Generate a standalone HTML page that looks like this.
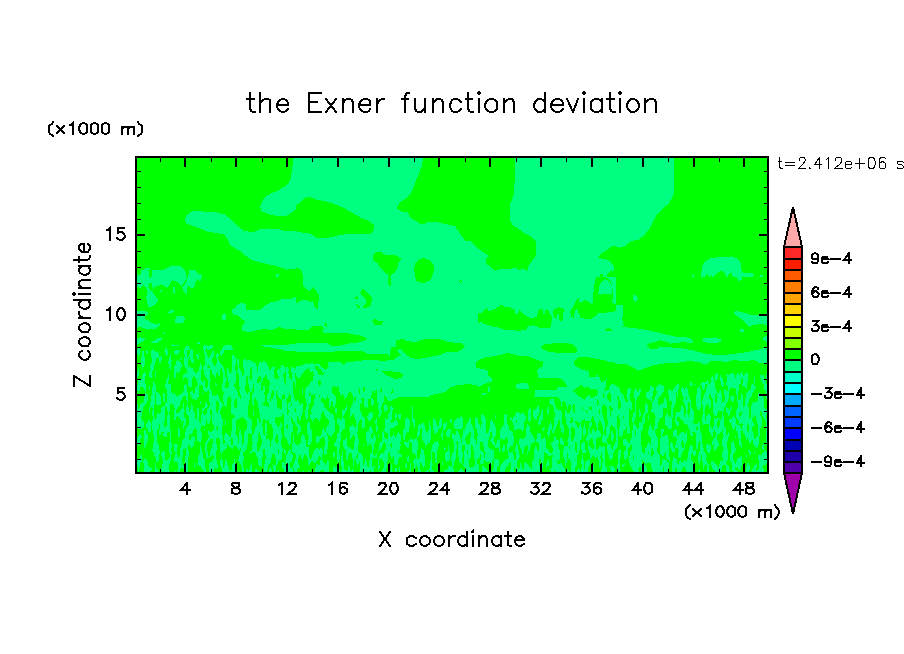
<!DOCTYPE html><html><head><meta charset="utf-8"><title>the Exner function deviation</title>
<style>html,body{margin:0;padding:0;background:#fff;font-family:"Liberation Sans",sans-serif}svg{display:block}</style></head><body>
<svg width="904" height="654" viewBox="0 0 904 654">
<rect width="904" height="654" fill="#fff"/>
<g shape-rendering="crispEdges">
<rect x="136" y="157" width="632" height="316" fill="#00ff00"/>
<path fill="#00ff80" d="M136 338h1v7h-1zM136 453h1v5h-1zM136 373h1v5h-1zM136 402h1v24h-1zM136 311h2v17h-2zM137 385h1v5h-1zM137 404h1v24h-1zM137 459h1v7h-1zM137 372h1v6h-1zM137 438h1v7h-1zM137 349h1v5h-1zM136 275h3v12h-3zM137 338h2v6h-2zM138 379h1v14h-1zM138 436h1v10h-1zM138 459h1v14h-1zM138 368h1v8h-1zM138 347h1v9h-1zM138 409h1v20h-1zM139 472h1v1h-1zM139 435h1v8h-1zM139 379h1v12h-1zM139 407h1v22h-1zM139 348h1v7h-1zM139 275h1v13h-1zM139 458h1v10h-1zM139 338h1v5h-1zM140 455h1v8h-1zM140 337h1v6h-1zM140 404h1v25h-1zM140 274h1v14h-1zM140 434h1v5h-1zM140 379h1v8h-1zM138 311h4v16h-4zM141 455h1v7h-1zM141 403h1v13h-1zM141 270h1v17h-1zM141 378h1v9h-1zM141 418h1v11h-1zM141 357h1v8h-1zM141 436h1v2h-1zM141 338h2v4h-2zM142 403h1v8h-1zM142 351h1v18h-1zM142 421h1v7h-1zM142 270h1v16h-1zM142 310h1v18h-1zM142 375h1v12h-1zM143 351h1v16h-1zM143 460h1v3h-1zM143 270h1v15h-1zM143 338h1v3h-1zM143 373h1v15h-1zM143 421h1v6h-1zM143 402h1v5h-1zM143 311h2v17h-2zM144 430h1v18h-1zM144 397h1v9h-1zM144 269h1v17h-1zM144 338h1v2h-1zM144 372h1v18h-1zM144 357h1v8h-1zM145 319h1v10h-1zM145 384h1v8h-1zM145 373h1v3h-1zM145 393h1v11h-1zM145 430h1v17h-1zM145 311h1v5h-1zM145 268h1v19h-1zM144 459h3v14h-3zM146 433h1v11h-1zM146 268h1v21h-1zM146 296h1v3h-1zM146 351h1v2h-1zM146 320h1v9h-1zM146 394h1v9h-1zM146 424h1v4h-1zM146 312h2v3h-2zM147 434h1v7h-1zM147 320h1v10h-1zM147 350h1v4h-1zM147 395h1v6h-1zM147 268h1v23h-1zM147 292h1v12h-1zM147 422h1v7h-1zM147 462h1v11h-1zM148 271h1v16h-1zM148 466h1v7h-1zM148 420h1v12h-1zM148 288h1v19h-1zM148 321h2v8h-2zM148 268h2v2h-2zM149 467h1v6h-1zM149 407h1v6h-1zM149 420h1v13h-1zM149 289h1v18h-1zM149 386h1v4h-1zM149 372h1v5h-1zM150 402h1v6h-1zM150 365h1v3h-1zM150 369h1v9h-1zM150 290h1v17h-1zM150 467h1v4h-1zM150 322h1v7h-1zM150 422h1v10h-1zM149 277h3v6h-3zM151 395h1v12h-1zM151 351h1v6h-1zM151 468h1v2h-1zM151 424h1v1h-1zM151 291h1v16h-1zM151 363h1v15h-1zM151 342h1v1h-1zM151 450h1v1h-1zM152 387h1v21h-1zM152 350h1v21h-1zM152 292h1v14h-1zM152 420h1v10h-1zM152 270h1v17h-1zM152 410h1v6h-1zM152 449h1v2h-1zM151 323h3v6h-3zM152 341h2v2h-2zM153 349h1v21h-1zM153 293h1v13h-1zM153 443h1v9h-1zM153 381h1v54h-1zM153 270h1v20h-1zM154 419h1v37h-1zM154 295h1v10h-1zM154 383h1v22h-1zM154 351h1v14h-1zM154 340h2v3h-2zM154 270h2v17h-2zM154 324h2v5h-2zM155 371h1v6h-1zM155 385h1v8h-1zM155 463h1v10h-1zM155 296h1v8h-1zM155 352h1v10h-1zM155 419h1v38h-1zM156 468h1v5h-1zM156 298h1v5h-1zM156 324h1v4h-1zM156 417h1v45h-1zM156 339h1v4h-1zM156 392h1v12h-1zM156 352h1v6h-1zM157 299h1v3h-1zM157 469h1v4h-1zM157 392h1v13h-1zM157 443h1v19h-1zM157 413h1v17h-1zM157 338h1v5h-1zM157 351h1v7h-1zM156 270h3v16h-3zM157 324h2v3h-2zM158 338h1v4h-1zM158 471h1v2h-1zM158 393h1v12h-1zM158 445h1v16h-1zM158 353h1v5h-1zM158 413h1v16h-1zM159 450h1v4h-1zM159 430h1v5h-1zM159 323h1v2h-1zM159 394h1v11h-1zM159 414h1v10h-1zM159 357h2v6h-2zM159 270h2v15h-2zM159 338h2v3h-2zM160 413h1v22h-1zM160 396h1v9h-1zM160 290h2v2h-2zM161 468h1v2h-1zM161 453h1v3h-1zM161 356h1v4h-1zM161 270h1v14h-1zM161 408h1v24h-1zM161 337h1v2h-1zM162 452h1v7h-1zM162 270h1v15h-1zM162 464h1v8h-1zM162 407h1v25h-1zM163 393h1v8h-1zM163 333h1v1h-1zM163 433h1v3h-1zM163 406h1v26h-1zM163 270h1v16h-1zM163 451h2v21h-2zM164 393h1v9h-1zM164 426h1v11h-1zM164 332h1v2h-1zM164 269h1v17h-1zM164 350h1v1h-1zM164 406h1v15h-1zM165 269h1v18h-1zM165 460h1v13h-1zM165 427h1v10h-1zM165 403h1v4h-1zM165 384h1v4h-1zM165 348h1v6h-1zM166 426h1v11h-1zM166 369h1v1h-1zM166 461h1v12h-1zM166 380h1v9h-1zM166 348h1v8h-1zM166 268h1v20h-1zM166 402h1v5h-1zM167 460h1v13h-1zM167 350h1v5h-1zM167 378h1v33h-1zM167 415h1v18h-1zM167 268h1v19h-1zM168 459h1v14h-1zM168 375h1v6h-1zM168 267h1v19h-1zM168 384h1v48h-1zM168 312h1v1h-1zM168 361h1v3h-1zM169 471h1v2h-1zM169 384h1v28h-1zM169 311h1v3h-1zM169 442h1v11h-1zM169 415h1v17h-1zM169 457h1v7h-1zM169 357h1v11h-1zM169 267h1v18h-1zM170 430h1v31h-1zM170 266h1v17h-1zM170 354h1v16h-1zM170 384h1v20h-1zM171 443h1v5h-1zM171 360h1v2h-1zM171 266h1v15h-1zM171 345h1v1h-1zM171 392h1v12h-1zM171 452h1v2h-1zM170 310h3v3h-3zM172 394h1v10h-1zM172 344h1v2h-1zM172 265h1v15h-1zM173 393h1v13h-1zM173 287h1v6h-1zM173 310h1v2h-1zM174 351h1v3h-1zM174 393h1v15h-1zM174 457h1v5h-1zM174 410h1v10h-1zM174 366h1v12h-1zM174 287h1v7h-1zM174 444h1v7h-1zM173 266h3v15h-3zM174 471h2v2h-2zM175 444h1v9h-1zM175 454h1v8h-1zM175 365h1v13h-1zM175 350h1v4h-1zM175 395h1v25h-1zM175 319h1v4h-1zM176 350h1v5h-1zM176 472h1v1h-1zM176 444h1v18h-1zM176 361h1v11h-1zM176 317h1v6h-1zM176 413h1v4h-1zM176 396h1v14h-1zM176 266h2v16h-2zM177 413h1v3h-1zM177 471h1v2h-1zM177 455h1v8h-1zM177 396h1v12h-1zM177 360h1v12h-1zM177 316h1v7h-1zM177 445h1v2h-1zM173 345h6v1h-6zM177 350h2v4h-2zM178 266h1v17h-1zM178 361h1v12h-1zM178 427h1v10h-1zM178 316h1v8h-1zM178 413h1v4h-1zM178 396h1v11h-1zM178 458h1v15h-1zM179 361h1v11h-1zM179 266h1v18h-1zM179 351h1v1h-1zM179 412h1v6h-1zM179 457h1v16h-1zM179 395h1v11h-1zM179 429h1v8h-1zM180 358h1v2h-1zM180 362h1v7h-1zM180 448h1v21h-1zM180 394h1v8h-1zM180 266h1v19h-1zM180 410h1v10h-1zM181 358h1v1h-1zM181 364h1v3h-1zM181 445h1v23h-1zM181 267h1v19h-1zM181 394h1v6h-1zM181 409h1v14h-1zM179 316h4v7h-4zM182 408h1v13h-1zM182 440h1v17h-1zM182 426h1v1h-1zM182 287h1v1h-1zM182 393h1v5h-1zM182 268h1v17h-1zM182 463h1v5h-1zM183 423h1v6h-1zM183 403h1v18h-1zM183 269h1v14h-1zM183 375h1v5h-1zM183 466h1v3h-1zM183 439h1v10h-1zM183 286h1v5h-1zM183 391h1v5h-1zM183 316h1v6h-1zM184 385h1v11h-1zM184 411h1v1h-1zM184 270h1v12h-1zM184 374h1v4h-1zM184 357h1v9h-1zM184 285h1v7h-1zM184 438h1v11h-1zM184 349h1v6h-1zM184 318h1v2h-1zM184 417h1v9h-1zM184 465h2v8h-2zM185 272h1v8h-1zM185 418h1v7h-1zM185 432h1v16h-1zM185 283h1v10h-1zM185 218h1v3h-1zM185 374h1v3h-1zM185 347h1v21h-1zM185 456h1v8h-1zM185 384h1v12h-1zM186 407h1v7h-1zM186 277h1v2h-1zM186 428h1v45h-1zM186 216h1v8h-1zM186 346h1v23h-1zM186 373h1v5h-1zM186 281h1v13h-1zM186 385h1v15h-1zM187 392h1v11h-1zM187 426h1v47h-1zM187 357h1v22h-1zM187 278h1v9h-1zM187 404h1v11h-1zM187 346h2v4h-2zM187 214h2v10h-2zM188 451h1v6h-1zM188 367h1v19h-1zM188 274h1v12h-1zM188 356h1v3h-1zM188 407h1v9h-1zM188 425h1v20h-1zM189 348h1v2h-1zM189 213h1v12h-1zM189 354h1v3h-1zM189 412h1v22h-1zM189 440h1v5h-1zM189 270h1v16h-1zM189 367h2v20h-2zM190 440h1v7h-1zM190 409h1v25h-1zM190 350h1v10h-1zM190 392h1v2h-1zM190 212h2v13h-2zM191 391h1v6h-1zM191 349h1v13h-1zM191 437h1v11h-1zM191 404h1v31h-1zM191 368h1v19h-1zM192 436h1v11h-1zM192 350h1v13h-1zM192 406h1v27h-1zM192 368h1v10h-1zM192 391h1v8h-1zM190 270h4v18h-4zM193 394h1v5h-1zM193 370h1v6h-1zM193 437h1v9h-1zM193 359h1v4h-1zM193 411h1v19h-1zM192 211h3v15h-3zM194 463h1v4h-1zM194 412h1v17h-1zM194 437h1v5h-1zM194 372h1v5h-1zM194 270h1v16h-1zM194 393h1v6h-1zM195 388h1v12h-1zM195 270h1v12h-1zM195 373h1v5h-1zM195 419h1v9h-1zM195 466h1v1h-1zM195 211h2v16h-2zM196 373h1v7h-1zM196 419h1v11h-1zM196 272h1v9h-1zM196 354h1v2h-1zM196 387h1v13h-1zM197 463h1v2h-1zM197 372h1v11h-1zM197 273h1v6h-1zM197 385h1v13h-1zM197 354h1v5h-1zM197 408h2v33h-2zM198 371h1v26h-1zM198 274h1v6h-1zM198 355h1v4h-1zM198 456h1v9h-1zM197 211h3v17h-3zM197 342h3v2h-3zM199 422h1v20h-1zM199 454h1v12h-1zM199 367h1v18h-1zM199 353h1v1h-1zM199 274h2v7h-2zM200 363h1v22h-1zM200 430h1v13h-1zM200 401h1v3h-1zM200 423h1v6h-1zM200 445h1v21h-1zM200 211h2v18h-2zM201 365h1v5h-1zM201 275h1v2h-1zM201 381h1v4h-1zM201 432h1v7h-1zM201 415h1v11h-1zM201 449h1v19h-1zM202 453h1v16h-1zM202 382h1v4h-1zM202 211h1v19h-1zM202 408h1v17h-1zM202 392h1v2h-1zM203 408h1v3h-1zM203 346h1v4h-1zM203 458h1v13h-1zM203 381h1v9h-1zM203 414h1v12h-1zM203 366h1v4h-1zM203 212h2v18h-2zM204 345h1v9h-1zM204 415h1v12h-1zM204 459h1v14h-1zM204 366h1v9h-1zM204 380h1v11h-1zM204 407h1v2h-1zM204 429h1v2h-1zM205 403h1v5h-1zM205 351h1v26h-1zM205 387h1v5h-1zM205 468h1v5h-1zM205 443h1v10h-1zM205 415h1v9h-1zM205 345h1v5h-1zM205 212h2v19h-2zM206 345h1v3h-1zM206 353h1v25h-1zM206 402h1v6h-1zM206 441h1v17h-1zM206 388h1v4h-1zM206 413h1v6h-1zM206 472h2v1h-2zM207 440h1v4h-1zM207 356h1v10h-1zM207 409h1v14h-1zM207 452h1v6h-1zM207 387h1v4h-1zM207 405h1v2h-1zM207 367h1v13h-1zM208 408h1v16h-1zM208 358h1v7h-1zM208 431h1v4h-1zM208 438h1v3h-1zM208 368h1v22h-1zM207 346h3v4h-3zM208 456h2v1h-2zM209 368h1v24h-1zM209 357h1v9h-1zM209 463h1v9h-1zM209 393h1v10h-1zM209 406h1v17h-1zM209 431h1v10h-1zM210 389h1v20h-1zM210 379h1v1h-1zM210 451h1v6h-1zM210 355h1v14h-1zM210 415h1v4h-1zM210 462h2v11h-2zM210 345h2v4h-2zM210 432h2v7h-2zM211 448h1v8h-1zM211 391h1v19h-1zM211 353h1v18h-1zM207 212h6v20h-6zM212 345h1v3h-1zM212 363h1v11h-1zM212 461h1v12h-1zM212 431h1v8h-1zM212 444h1v11h-1zM212 395h1v28h-1zM212 351h1v7h-1zM213 395h1v30h-1zM213 351h1v5h-1zM213 430h1v26h-1zM213 364h1v11h-1zM213 459h1v13h-1zM214 396h1v73h-1zM214 366h1v10h-1zM215 396h1v72h-1zM215 366h1v12h-1zM215 383h1v2h-1zM213 212h4v21h-4zM216 460h1v9h-1zM216 363h1v10h-1zM216 384h1v2h-1zM216 395h1v6h-1zM216 429h1v9h-1zM216 354h1v5h-1zM216 444h1v7h-1zM216 412h1v15h-1zM217 353h1v19h-1zM217 394h1v7h-1zM217 448h1v1h-1zM217 464h1v4h-1zM217 431h1v7h-1zM217 413h1v13h-1zM217 213h2v20h-2zM218 396h1v6h-1zM218 360h1v15h-1zM218 354h1v2h-1zM218 410h1v28h-1zM219 362h1v14h-1zM219 399h1v40h-1zM219 213h2v21h-2zM220 460h1v6h-1zM220 401h1v10h-1zM220 363h1v6h-1zM220 351h1v4h-1zM220 414h1v38h-1zM221 402h1v6h-1zM221 457h1v11h-1zM221 417h1v38h-1zM221 350h1v6h-1zM221 364h1v4h-1zM222 460h1v13h-1zM222 403h1v4h-1zM222 315h1v5h-1zM222 366h1v6h-1zM222 419h1v7h-1zM222 383h1v8h-1zM222 435h1v17h-1zM222 348h1v6h-1zM221 214h3v20h-3zM223 468h1v5h-1zM223 394h1v8h-1zM223 367h1v25h-1zM223 346h1v7h-1zM223 314h1v6h-1zM223 444h1v7h-1zM224 465h1v8h-1zM224 214h1v21h-1zM224 444h1v6h-1zM224 436h1v4h-1zM224 346h1v4h-1zM224 371h1v34h-1zM224 313h1v7h-1zM225 377h1v6h-1zM225 388h1v19h-1zM225 459h1v14h-1zM225 433h1v16h-1zM225 215h1v21h-1zM225 420h1v5h-1zM225 314h1v6h-1zM226 216h1v22h-1zM226 461h1v12h-1zM226 388h1v18h-1zM226 433h1v15h-1zM226 378h1v2h-1zM227 217h1v22h-1zM227 463h1v10h-1zM227 434h1v10h-1zM227 388h1v11h-1zM227 368h1v9h-1zM228 467h1v6h-1zM228 217h1v24h-1zM228 386h1v11h-1zM228 369h1v13h-1zM228 435h1v10h-1zM229 437h1v10h-1zM229 218h1v26h-1zM229 373h1v23h-1zM225 345h6v5h-6zM229 471h2v2h-2zM230 441h1v6h-1zM230 219h1v26h-1zM230 437h1v3h-1zM230 373h1v24h-1zM231 470h1v3h-1zM231 346h1v4h-1zM231 445h1v3h-1zM231 220h1v26h-1zM231 401h1v13h-1zM231 372h1v28h-1zM231 431h1v7h-1zM232 464h1v9h-1zM232 309h1v4h-1zM232 348h1v2h-1zM232 355h1v60h-1zM232 445h1v4h-1zM232 419h1v20h-1zM232 221h1v26h-1zM233 463h1v10h-1zM233 418h1v29h-1zM233 355h1v59h-1zM233 309h1v6h-1zM233 222h1v25h-1zM234 223h1v25h-1zM234 386h1v15h-1zM234 459h1v14h-1zM234 417h1v29h-1zM234 407h1v9h-1zM234 356h1v28h-1zM234 308h2v7h-2zM235 370h1v12h-1zM235 388h1v11h-1zM235 358h1v7h-1zM235 433h1v13h-1zM235 408h1v24h-1zM235 224h1v25h-1zM236 408h1v12h-1zM236 390h1v8h-1zM236 435h1v11h-1zM236 225h1v24h-1zM236 305h2v10h-2zM237 359h1v5h-1zM237 226h1v24h-1zM237 437h1v11h-1zM237 392h1v28h-1zM237 370h1v3h-1zM235 471h4v2h-4zM238 459h1v2h-1zM238 304h1v12h-1zM238 396h1v23h-1zM238 443h1v7h-1zM238 359h1v15h-1zM238 227h1v23h-1zM238 427h1v2h-1zM239 227h1v24h-1zM239 397h1v22h-1zM239 431h1v19h-1zM239 455h1v8h-1zM239 472h1v1h-1zM239 389h1v2h-1zM239 304h1v13h-1zM239 368h1v19h-1zM240 430h1v18h-1zM240 303h1v15h-1zM240 399h1v19h-1zM240 370h1v25h-1zM240 451h1v13h-1zM240 228h1v23h-1zM241 229h1v23h-1zM241 372h1v45h-1zM241 303h1v16h-1zM241 435h1v31h-1zM242 230h1v23h-1zM242 326h1v5h-1zM242 376h1v41h-1zM242 445h1v28h-1zM242 303h2v17h-2zM243 456h1v4h-1zM243 467h1v6h-1zM243 231h1v23h-1zM243 375h1v43h-1zM243 324h1v7h-1zM243 360h1v8h-1zM243 443h1v9h-1zM244 359h1v60h-1zM244 323h1v8h-1zM244 304h1v17h-1zM244 432h1v20h-1zM244 231h1v24h-1zM245 391h1v29h-1zM245 430h1v20h-1zM245 359h1v27h-1zM245 304h1v27h-1zM245 231h2v25h-2zM246 393h1v28h-1zM246 429h1v20h-1zM246 360h1v17h-1zM246 469h2v4h-2zM247 394h1v50h-1zM247 361h1v15h-1zM247 231h1v26h-1zM246 310h3v22h-3zM248 471h1v2h-1zM248 417h1v17h-1zM248 392h1v13h-1zM248 360h1v24h-1zM248 232h2v26h-2zM249 470h1v3h-1zM249 360h1v16h-1zM249 378h1v11h-1zM249 309h1v23h-1zM249 391h1v9h-1zM249 418h1v15h-1zM250 451h1v3h-1zM250 466h1v7h-1zM250 360h1v9h-1zM250 232h1v27h-1zM250 419h1v15h-1zM250 380h2v12h-2zM250 310h2v22h-2zM251 361h1v6h-1zM251 463h1v10h-1zM251 420h1v7h-1zM251 428h1v6h-1zM251 451h1v2h-1zM251 232h2v28h-2zM252 472h1v1h-1zM252 394h1v10h-1zM252 444h1v8h-1zM252 362h1v27h-1zM252 435h1v7h-1zM253 410h1v6h-1zM253 392h1v14h-1zM253 362h1v22h-1zM253 434h1v18h-1zM253 232h2v29h-2zM254 431h1v21h-1zM254 363h1v36h-1zM252 310h4v21h-4zM255 427h1v26h-1zM255 363h1v35h-1zM255 231h2v30h-2zM255 469h2v4h-2zM256 426h1v30h-1zM256 366h1v34h-1zM257 470h1v3h-1zM257 383h1v19h-1zM257 372h1v7h-1zM257 451h1v7h-1zM257 418h1v24h-1zM257 230h2v32h-2zM258 471h1v2h-1zM258 383h1v25h-1zM258 451h1v14h-1zM258 365h1v12h-1zM258 419h1v15h-1zM256 310h4v20h-4zM259 450h1v16h-1zM259 382h1v31h-1zM259 423h1v9h-1zM259 229h1v33h-1zM259 362h2v14h-2zM260 447h1v19h-1zM260 206h1v2h-1zM260 422h1v14h-1zM260 309h1v21h-1zM260 382h1v37h-1zM261 309h1v20h-1zM261 363h1v20h-1zM261 391h1v48h-1zM261 203h1v8h-1zM261 444h1v23h-1zM262 201h1v11h-1zM262 362h1v19h-1zM262 404h1v19h-1zM262 390h1v13h-1zM262 427h1v24h-1zM262 452h1v5h-1zM262 308h1v21h-1zM261 345h3v1h-3zM263 199h1v13h-1zM263 405h1v14h-1zM263 361h1v17h-1zM263 434h1v15h-1zM263 386h1v17h-1zM263 307h1v22h-1zM260 229h5v34h-5zM264 361h1v16h-1zM264 386h1v6h-1zM264 406h1v13h-1zM264 464h1v9h-1zM264 395h1v7h-1zM264 435h1v14h-1zM264 198h1v14h-1zM264 306h1v23h-1zM265 405h1v16h-1zM265 362h1v13h-1zM265 459h1v14h-1zM265 423h1v32h-1zM265 197h1v16h-1zM265 305h2v24h-2zM266 196h1v17h-1zM266 439h1v34h-1zM266 406h1v15h-1zM266 363h1v13h-1zM266 423h1v9h-1zM266 433h1v2h-1zM265 229h3v35h-3zM267 439h1v31h-1zM267 304h1v25h-1zM267 394h1v8h-1zM267 365h1v14h-1zM267 407h2v13h-2zM267 195h2v19h-2zM268 228h1v36h-1zM268 439h1v26h-1zM268 393h1v10h-1zM268 304h1v26h-1zM268 367h1v13h-1zM269 468h1v5h-1zM269 303h1v27h-1zM269 194h1v20h-1zM269 370h1v11h-1zM269 385h1v38h-1zM269 440h1v24h-1zM264 345h7v2h-7zM270 194h1v21h-1zM270 467h1v6h-1zM270 370h1v28h-1zM270 402h1v22h-1zM270 447h1v16h-1zM271 368h1v25h-1zM271 441h1v17h-1zM271 399h1v26h-1zM271 469h1v4h-1zM270 302h3v28h-3zM271 193h2v22h-2zM272 399h1v29h-1zM272 439h1v15h-1zM272 464h1v1h-1zM272 367h1v23h-1zM269 229h5v36h-5zM273 396h1v58h-1zM273 367h1v24h-1zM273 465h1v5h-1zM273 192h2v23h-2zM273 302h2v27h-2zM274 366h1v3h-1zM274 388h1v66h-1zM274 378h1v9h-1zM271 345h5v3h-5zM274 465h2v7h-2zM275 192h1v24h-1zM275 442h1v16h-1zM275 378h1v40h-1zM275 301h1v28h-1zM275 423h1v15h-1zM276 444h1v22h-1zM276 425h1v9h-1zM276 379h1v12h-1zM276 399h1v18h-1zM274 229h4v37h-4zM276 301h2v27h-2zM276 191h2v25h-2zM277 471h1v2h-1zM277 407h1v10h-1zM277 379h1v16h-1zM277 370h1v4h-1zM277 426h1v9h-1zM277 443h1v21h-1zM276 274h3v3h-3zM278 470h1v3h-1zM278 441h1v8h-1zM278 408h1v9h-1zM278 369h1v7h-1zM278 301h1v26h-1zM278 428h1v12h-1zM278 379h1v18h-1zM278 454h1v7h-1zM278 229h2v38h-2zM278 190h2v26h-2zM279 369h1v29h-1zM279 426h1v34h-1zM276 345h5v4h-5zM279 409h2v8h-2zM279 300h2v27h-2zM280 372h1v27h-1zM280 230h1v37h-1zM280 422h1v38h-1zM280 368h1v3h-1zM280 189h1v27h-1zM281 424h1v3h-1zM281 299h1v29h-1zM281 409h1v7h-1zM281 445h1v14h-1zM281 365h1v35h-1zM281 433h1v6h-1zM281 188h2v28h-2zM281 230h2v38h-2zM282 365h1v30h-1zM282 298h1v30h-1zM282 462h1v6h-1zM282 448h1v4h-1zM282 400h1v13h-1zM281 345h3v5h-3zM283 299h1v29h-1zM283 462h1v7h-1zM283 377h1v17h-1zM283 366h1v8h-1zM283 231h1v37h-1zM283 399h1v16h-1zM283 187h2v29h-2zM284 367h1v6h-1zM284 382h1v13h-1zM284 449h1v4h-1zM284 399h1v37h-1zM284 462h1v11h-1zM284 231h2v38h-2zM285 186h1v30h-1zM285 385h1v53h-1zM285 466h1v7h-1zM285 460h1v2h-1zM285 450h1v5h-1zM285 369h1v2h-1zM286 367h1v32h-1zM286 402h1v23h-1zM286 455h1v18h-1zM286 231h1v39h-1zM286 428h1v11h-1zM286 185h1v31h-1zM287 454h1v19h-1zM287 415h1v9h-1zM287 367h1v31h-1zM287 184h1v31h-1zM287 429h1v12h-1zM284 345h5v6h-5zM288 413h1v31h-1zM288 451h1v22h-1zM288 373h1v23h-1zM288 183h1v32h-1zM288 403h1v7h-1zM288 369h1v2h-1zM289 378h1v15h-1zM289 465h1v8h-1zM289 402h1v44h-1zM289 181h1v33h-1zM289 449h1v15h-1zM290 179h1v34h-1zM290 402h1v42h-1zM290 379h1v16h-1zM290 450h1v12h-1zM284 299h8v30h-8zM291 380h1v23h-1zM291 453h1v9h-1zM291 406h1v11h-1zM291 367h1v5h-1zM291 422h1v11h-1zM291 173h1v40h-1zM290 468h3v5h-3zM292 166h1v46h-1zM292 424h1v8h-1zM292 444h1v8h-1zM292 455h1v3h-1zM292 367h1v52h-1zM292 298h2v31h-2zM293 394h1v27h-1zM293 434h1v19h-1zM293 157h1v54h-1zM293 465h1v3h-1zM293 368h1v13h-1zM294 368h1v14h-1zM294 462h1v9h-1zM294 442h1v11h-1zM294 398h1v11h-1zM294 411h1v11h-1zM287 231h9v38h-9zM289 344h7v7h-7zM294 157h2v53h-2zM294 297h2v32h-2zM295 444h1v10h-1zM295 459h1v14h-1zM295 369h1v4h-1zM295 386h1v2h-1zM295 401h1v7h-1zM295 379h1v6h-1zM295 412h1v13h-1zM296 366h1v10h-1zM296 157h1v48h-1zM296 445h1v28h-1zM296 401h1v25h-1zM296 231h1v37h-1zM296 303h2v27h-2zM297 445h1v24h-1zM297 423h1v4h-1zM297 431h1v4h-1zM297 400h1v16h-1zM297 232h2v36h-2zM297 157h2v47h-2zM298 401h1v17h-1zM298 445h1v13h-1zM298 302h1v28h-1zM298 424h1v10h-1zM298 463h1v5h-1zM297 366h3v12h-3zM299 157h1v46h-1zM299 425h1v7h-1zM299 404h1v17h-1zM299 232h1v37h-1zM299 444h1v11h-1zM299 466h1v2h-1zM299 301h2v29h-2zM300 366h1v11h-1zM300 157h1v45h-1zM300 405h1v15h-1zM300 443h1v12h-1zM300 426h1v6h-1zM300 232h1v38h-1zM301 365h1v10h-1zM301 436h1v22h-1zM301 403h1v13h-1zM301 157h1v44h-1zM301 232h1v39h-1zM302 388h1v7h-1zM302 233h1v41h-1zM302 403h1v10h-1zM302 365h1v9h-1zM302 157h1v43h-1zM302 434h1v27h-1zM302 471h2v2h-2zM303 157h1v42h-1zM303 435h1v22h-1zM303 365h1v7h-1zM303 233h1v53h-1zM304 364h1v7h-1zM304 233h1v54h-1zM304 472h1v1h-1zM304 436h1v18h-1zM305 440h1v15h-1zM305 364h1v6h-1zM305 389h1v9h-1zM305 409h1v8h-1zM305 233h1v55h-1zM301 300h6v30h-6zM304 157h3v41h-3zM306 363h1v6h-1zM306 233h1v56h-1zM306 406h1v14h-1zM306 447h1v9h-1zM306 387h1v16h-1zM307 447h1v11h-1zM307 443h1v1h-1zM307 472h1v1h-1zM307 423h1v11h-1zM307 233h1v57h-1zM307 364h1v5h-1zM307 386h1v33h-1zM307 301h2v29h-2zM308 470h1v3h-1zM308 446h1v19h-1zM308 364h1v4h-1zM308 386h1v23h-1zM308 421h1v16h-1zM308 439h1v6h-1zM308 233h1v58h-1zM309 384h1v9h-1zM309 472h1v1h-1zM309 457h1v8h-1zM309 423h1v22h-1zM309 364h1v5h-1zM309 234h1v57h-1zM309 396h1v8h-1zM309 301h1v28h-1zM307 157h4v40h-4zM310 302h1v26h-1zM310 428h1v16h-1zM310 234h1v56h-1zM310 414h1v4h-1zM310 459h1v4h-1zM310 395h1v8h-1zM310 382h1v11h-1zM310 363h2v9h-2zM311 409h1v4h-1zM311 302h1v25h-1zM311 234h1v55h-1zM311 458h1v3h-1zM311 430h1v12h-1zM311 414h1v6h-1zM311 381h2v14h-2zM312 235h1v53h-1zM312 301h1v25h-1zM312 407h1v15h-1zM312 455h1v6h-1zM312 363h1v8h-1zM311 157h3v41h-3zM313 236h1v51h-1zM313 364h1v10h-1zM313 452h1v10h-1zM313 303h1v23h-1zM313 405h1v15h-1zM313 376h1v19h-1zM314 471h1v2h-1zM314 450h1v13h-1zM314 236h1v53h-1zM314 306h1v20h-1zM314 364h1v30h-1zM314 399h1v20h-1zM314 157h2v42h-2zM315 468h1v5h-1zM315 237h1v53h-1zM315 449h1v14h-1zM315 369h1v49h-1zM315 308h2v18h-2zM316 448h1v13h-1zM316 238h1v53h-1zM316 370h1v48h-1zM315 364h3v2h-3zM316 464h2v9h-2zM316 436h2v7h-2zM317 448h1v12h-1zM317 238h1v55h-1zM317 371h1v48h-1zM317 309h1v17h-1zM318 465h1v8h-1zM318 364h1v3h-1zM318 374h1v7h-1zM318 238h1v56h-1zM318 384h1v36h-1zM318 436h1v6h-1zM318 301h1v25h-1zM318 449h1v8h-1zM319 386h1v9h-1zM319 375h1v5h-1zM319 465h1v7h-1zM319 449h1v7h-1zM319 397h1v24h-1zM319 364h1v5h-1zM319 437h1v4h-1zM316 157h5v43h-5zM320 385h1v34h-1zM320 366h1v3h-1zM320 436h1v3h-1zM320 460h1v11h-1zM320 448h1v9h-1zM320 375h1v6h-1zM319 238h3v88h-3zM321 374h1v24h-1zM321 448h1v22h-1zM321 402h1v12h-1zM321 367h1v4h-1zM321 434h1v4h-1zM322 460h1v10h-1zM322 331h1v1h-1zM322 430h1v7h-1zM322 449h1v6h-1zM322 368h1v4h-1zM322 238h1v89h-1zM322 403h1v9h-1zM322 375h2v23h-2zM323 329h1v3h-1zM323 403h1v8h-1zM323 368h1v5h-1zM323 428h1v9h-1zM323 238h1v90h-1zM323 462h1v8h-1zM324 463h1v10h-1zM324 369h1v30h-1zM324 446h1v8h-1zM324 238h1v87h-1zM324 407h1v8h-1zM324 430h1v9h-1zM321 157h5v44h-5zM324 326h2v7h-2zM325 465h1v8h-1zM325 408h1v9h-1zM325 432h1v23h-1zM325 370h1v30h-1zM325 238h2v85h-2zM326 427h1v27h-1zM326 463h1v10h-1zM326 327h1v6h-1zM326 409h1v9h-1zM326 369h1v29h-1zM296 343h32v9h-32zM327 368h1v28h-1zM327 460h1v13h-1zM327 436h1v13h-1zM327 426h1v7h-1zM327 410h1v9h-1zM326 157h3v45h-3zM327 238h2v95h-2zM328 440h1v1h-1zM328 425h1v10h-1zM328 461h1v12h-1zM328 367h1v31h-1zM328 411h1v9h-1zM328 344h1v8h-1zM328 362h1v4h-1zM329 362h1v46h-1zM329 472h1v1h-1zM329 412h1v23h-1zM329 345h2v7h-2zM330 362h1v44h-1zM330 413h1v23h-1zM331 362h1v39h-1zM331 414h1v23h-1zM329 157h4v46h-4zM332 393h1v9h-1zM332 414h1v21h-1zM332 362h1v25h-1zM329 237h5v96h-5zM333 415h1v18h-1zM333 394h1v13h-1zM331 346h4v6h-4zM333 157h2v47h-2zM333 362h2v24h-2zM333 452h2v5h-2zM334 395h1v13h-1zM334 443h1v3h-1zM334 420h1v12h-1zM335 442h1v5h-1zM335 396h1v8h-1zM335 408h2v5h-2zM336 439h1v8h-1zM334 236h4v97h-4zM335 157h3v48h-3zM337 418h1v6h-1zM337 434h1v27h-1zM333 467h6v6h-6zM335 362h4v25h-4zM338 418h1v7h-1zM338 433h1v29h-1zM335 346h5v5h-5zM338 157h2v49h-2zM339 419h1v8h-1zM339 455h1v5h-1zM339 469h1v4h-1zM339 428h1v21h-1zM339 362h1v30h-1zM340 420h1v21h-1zM340 362h1v33h-1zM341 456h1v11h-1zM341 470h1v3h-1zM341 363h1v32h-1zM341 419h1v13h-1zM340 157h3v50h-3zM342 451h1v22h-1zM342 410h1v20h-1zM342 364h1v30h-1zM338 235h6v98h-6zM343 461h1v12h-1zM343 440h1v7h-1zM343 410h1v6h-1zM343 418h1v11h-1zM343 365h1v31h-1zM340 345h5v6h-5zM343 157h2v51h-2zM344 364h1v35h-1zM344 410h1v4h-1zM344 419h1v10h-1zM344 440h1v9h-1zM344 469h1v4h-1zM345 157h1v52h-1zM345 427h1v1h-1zM345 470h1v3h-1zM345 439h1v11h-1zM345 363h1v35h-1zM345 408h1v4h-1zM346 362h1v35h-1zM346 405h1v6h-1zM346 437h1v23h-1zM346 471h2v2h-2zM346 157h2v53h-2zM347 446h1v14h-1zM347 362h1v34h-1zM344 234h5v99h-5zM345 344h4v7h-4zM348 465h1v8h-1zM348 362h1v31h-1zM348 447h1v8h-1zM348 157h2v54h-2zM349 427h1v4h-1zM349 467h1v6h-1zM349 447h1v6h-1zM349 362h2v30h-2zM350 448h1v5h-1zM350 408h1v9h-1zM350 426h1v13h-1zM350 471h2v2h-2zM350 157h2v55h-2zM351 449h1v4h-1zM351 362h1v31h-1zM351 406h1v10h-1zM351 426h1v12h-1zM352 404h1v10h-1zM352 425h1v11h-1zM352 450h1v8h-1zM352 362h1v33h-1zM352 469h1v4h-1zM349 234h5v100h-5zM352 157h2v56h-2zM353 362h1v52h-1zM353 470h1v3h-1zM353 425h1v10h-1zM353 449h1v18h-1zM354 234h1v101h-1zM354 401h1v16h-1zM354 157h1v57h-1zM354 427h1v9h-1zM354 441h1v19h-1zM354 361h2v36h-2zM355 234h1v63h-1zM355 401h1v19h-1zM355 428h1v30h-1zM355 299h1v36h-1zM355 157h2v58h-2zM356 458h1v5h-1zM356 361h1v63h-1zM356 234h1v62h-1zM356 299h1v5h-1zM356 425h1v31h-1zM356 306h1v29h-1zM349 343h9v8h-9zM357 299h1v6h-1zM357 234h1v63h-1zM357 434h1v19h-1zM357 458h1v7h-1zM357 361h1v71h-1zM357 307h1v28h-1zM357 157h2v59h-2zM358 391h1v32h-1zM358 234h1v71h-1zM358 439h1v6h-1zM358 452h1v12h-1zM358 361h1v29h-1zM358 308h2v27h-2zM359 394h1v27h-1zM359 234h1v72h-1zM359 361h1v27h-1zM359 157h1v60h-1zM359 453h1v8h-1zM358 342h3v9h-3zM360 453h1v20h-1zM360 361h1v43h-1zM360 411h1v9h-1zM360 234h1v58h-1zM360 293h1v43h-1zM361 454h1v19h-1zM361 429h1v1h-1zM361 234h1v56h-1zM361 361h1v37h-1zM361 295h1v41h-1zM361 400h1v3h-1zM361 413h1v6h-1zM360 157h3v61h-3zM361 341h2v10h-2zM362 416h1v12h-1zM362 456h1v17h-1zM362 360h1v38h-1zM362 296h1v40h-1zM362 234h2v55h-2zM363 465h1v8h-1zM363 417h1v11h-1zM363 297h1v9h-1zM363 392h1v6h-1zM363 445h2v1h-2zM363 341h2v11h-2zM363 308h2v29h-2zM363 360h2v27h-2zM363 157h2v62h-2zM364 463h1v10h-1zM364 418h1v10h-1zM364 391h1v16h-1zM364 297h1v8h-1zM364 234h1v56h-1zM365 458h1v15h-1zM365 340h1v13h-1zM365 299h1v5h-1zM365 234h1v57h-1zM365 308h2v30h-2zM365 360h2v47h-2zM366 461h1v12h-1zM366 339h1v14h-1zM366 234h1v58h-1zM366 432h1v9h-1zM365 157h3v63h-3zM367 360h1v48h-1zM367 416h1v2h-1zM367 466h1v7h-1zM367 431h1v15h-1zM367 234h1v59h-1zM367 307h2v47h-2zM368 234h1v60h-1zM368 467h1v6h-1zM368 414h1v7h-1zM368 431h1v14h-1zM368 157h2v64h-2zM369 427h1v17h-1zM369 460h1v13h-1zM369 413h1v8h-1zM369 234h1v61h-1zM369 306h1v48h-1zM368 360h3v39h-3zM370 157h1v65h-1zM370 426h1v17h-1zM370 305h1v49h-1zM370 234h1v62h-1zM370 453h1v17h-1zM370 412h1v9h-1zM371 453h1v20h-1zM371 233h1v64h-1zM371 427h1v7h-1zM371 360h1v35h-1zM371 398h1v6h-1zM371 438h1v8h-1zM371 412h1v7h-1zM371 157h1v66h-1zM371 301h1v53h-1zM372 232h1v89h-1zM372 467h1v6h-1zM372 429h1v4h-1zM372 413h1v5h-1zM372 398h1v8h-1zM372 439h1v19h-1zM372 322h1v32h-1zM372 157h2v67h-2zM372 360h2v31h-2zM373 323h1v31h-1zM373 436h1v14h-1zM373 400h1v5h-1zM373 466h1v6h-1zM373 261h1v59h-1zM373 455h1v3h-1zM373 230h1v25h-1zM374 157h1v97h-1zM374 434h1v10h-1zM374 466h1v2h-1zM374 261h1v58h-1zM374 456h1v2h-1zM374 360h1v33h-1zM375 420h1v4h-1zM375 360h1v31h-1zM375 455h1v3h-1zM375 262h1v57h-1zM375 437h1v4h-1zM376 371h1v19h-1zM376 472h1v1h-1zM376 453h1v5h-1zM376 418h1v14h-1zM376 360h2v9h-2zM376 263h2v57h-2zM377 426h1v5h-1zM377 370h1v33h-1zM378 265h1v56h-1zM378 415h1v2h-1zM378 434h1v3h-1zM378 450h1v2h-1zM378 360h1v43h-1zM378 404h1v5h-1zM378 459h1v12h-1zM379 443h1v7h-1zM379 456h1v3h-1zM379 361h1v56h-1zM379 267h1v54h-1zM379 465h1v3h-1zM380 361h1v28h-1zM380 268h1v53h-1zM380 442h1v8h-1zM380 454h1v5h-1zM380 393h1v23h-1zM374 325h8v29h-8zM375 157h7v95h-7zM381 410h1v2h-1zM381 442h1v6h-1zM381 471h1v2h-1zM381 269h1v52h-1zM381 453h1v6h-1zM381 361h1v27h-1zM381 392h1v15h-1zM382 323h1v31h-1zM382 470h1v3h-1zM382 270h1v51h-1zM382 157h1v96h-1zM382 432h1v13h-1zM382 372h1v31h-1zM382 453h1v7h-1zM383 468h1v5h-1zM383 431h1v12h-1zM383 271h1v83h-1zM383 373h1v29h-1zM383 453h1v9h-1zM383 157h2v97h-2zM384 272h1v82h-1zM384 451h1v22h-1zM384 405h1v6h-1zM384 437h1v5h-1zM384 374h1v22h-1zM384 429h1v2h-1zM385 404h1v8h-1zM385 375h1v21h-1zM385 273h1v81h-1zM385 439h1v5h-1zM385 449h1v24h-1zM385 418h1v14h-1zM382 361h5v10h-5zM386 405h1v6h-1zM386 375h1v23h-1zM386 439h1v29h-1zM386 274h2v80h-2zM386 419h2v14h-2zM387 376h1v24h-1zM387 407h1v3h-1zM387 439h1v22h-1zM388 276h1v1h-1zM388 414h1v39h-1zM388 284h1v71h-1zM388 376h2v25h-2zM389 286h1v71h-1zM389 412h1v40h-1zM390 470h1v3h-1zM390 286h1v65h-1zM390 276h1v1h-1zM390 377h1v24h-1zM390 446h1v10h-1zM390 406h1v23h-1zM390 436h1v8h-1zM391 465h1v8h-1zM391 377h1v15h-1zM391 423h1v5h-1zM391 275h1v72h-1zM391 437h1v6h-1zM391 394h1v7h-1zM391 406h1v14h-1zM391 448h1v10h-1zM387 360h6v11h-6zM392 407h1v4h-1zM392 378h1v11h-1zM392 274h1v73h-1zM392 436h1v22h-1zM392 393h1v7h-1zM392 422h2v6h-2zM393 433h1v23h-1zM393 360h1v12h-1zM393 391h1v8h-1zM393 378h1v12h-1zM393 408h1v1h-1zM393 273h2v74h-2zM394 359h1v13h-1zM394 421h1v6h-1zM394 436h1v28h-1zM385 157h11v98h-11zM394 379h2v20h-2zM395 358h1v14h-1zM395 271h1v76h-1zM395 437h1v28h-1zM395 413h1v13h-1zM395 468h2v5h-2zM396 270h1v70h-1zM396 436h1v29h-1zM396 157h1v99h-1zM396 414h1v4h-1zM396 420h1v6h-1zM396 379h2v19h-2zM396 357h2v15h-2zM397 422h1v3h-1zM397 433h1v31h-1zM397 157h1v49h-1zM397 350h1v1h-1zM397 209h1v47h-1zM397 267h1v73h-1zM398 432h1v18h-1zM398 350h1v2h-1zM398 263h1v77h-1zM398 157h1v48h-1zM398 414h1v4h-1zM398 210h1v47h-1zM398 469h1v1h-1zM398 453h1v7h-1zM398 356h2v16h-2zM399 157h1v46h-1zM399 210h1v48h-1zM399 434h1v17h-1zM399 261h1v79h-1zM399 467h1v5h-1zM399 453h1v4h-1zM399 349h1v5h-1zM399 414h2v5h-2zM400 260h1v79h-1zM400 356h1v17h-1zM400 157h1v45h-1zM400 444h1v2h-1zM400 349h1v6h-1zM400 211h1v47h-1zM400 454h1v3h-1zM400 435h1v7h-1zM398 378h4v19h-4zM401 350h1v24h-1zM401 211h1v128h-1zM401 455h1v2h-1zM401 157h2v44h-2zM402 376h1v21h-1zM402 351h1v23h-1zM402 212h2v127h-2zM403 352h1v45h-1zM403 430h1v9h-1zM403 157h1v43h-1zM403 472h2v1h-2zM404 353h1v44h-1zM404 428h1v12h-1zM404 441h1v3h-1zM404 157h2v42h-2zM404 212h2v128h-2zM405 419h1v17h-1zM405 442h1v4h-1zM405 465h1v2h-1zM405 354h1v43h-1zM406 442h1v5h-1zM406 157h1v41h-1zM406 355h1v42h-1zM406 417h1v16h-1zM406 463h1v5h-1zM406 212h2v129h-2zM407 442h1v6h-1zM407 457h1v5h-1zM407 157h1v40h-1zM407 418h1v14h-1zM407 356h2v41h-2zM408 214h1v127h-1zM408 471h1v2h-1zM408 157h1v39h-1zM408 456h1v6h-1zM408 441h1v7h-1zM408 419h1v13h-1zM409 470h1v3h-1zM409 420h1v7h-1zM409 157h1v38h-1zM409 357h1v40h-1zM409 216h1v125h-1zM409 440h1v2h-1zM410 218h1v123h-1zM410 463h1v10h-1zM410 438h1v4h-1zM410 157h1v37h-1zM411 157h1v35h-1zM411 218h1v124h-1zM411 439h1v4h-1zM412 440h1v13h-1zM412 219h1v123h-1zM412 406h1v16h-1zM412 157h1v33h-1zM410 358h4v39h-4zM413 157h1v30h-1zM413 418h1v7h-1zM413 461h1v2h-1zM413 439h1v14h-1zM413 220h1v122h-1zM414 470h1v3h-1zM414 439h1v15h-1zM414 157h1v28h-1zM414 459h1v10h-1zM414 272h1v70h-1zM414 419h1v9h-1zM414 220h1v47h-1zM415 459h1v8h-1zM415 221h1v42h-1zM415 157h1v25h-1zM415 439h1v16h-1zM415 278h1v64h-1zM416 157h1v22h-1zM416 438h1v27h-1zM416 221h1v41h-1zM416 281h1v61h-1zM417 157h1v20h-1zM417 441h1v9h-1zM417 432h1v5h-1zM417 459h1v8h-1zM417 222h1v39h-1zM418 223h1v37h-1zM418 459h1v14h-1zM418 425h1v12h-1zM418 157h1v18h-1zM417 282h3v59h-3zM419 223h1v36h-1zM419 157h1v15h-1zM419 424h1v11h-1zM419 458h1v15h-1zM414 359h7v38h-7zM420 470h1v3h-1zM420 454h1v9h-1zM420 282h1v58h-1zM420 157h1v12h-1zM420 425h1v4h-1zM420 224h2v35h-2zM421 448h1v15h-1zM421 157h1v10h-1zM421 472h1v1h-1zM421 424h1v4h-1zM421 283h2v57h-2zM422 449h1v17h-1zM422 423h1v17h-1zM422 157h1v5h-1zM423 450h1v18h-1zM423 423h1v19h-1zM422 224h3v34h-3zM423 283h2v56h-2zM424 455h1v11h-1zM424 425h1v18h-1zM425 430h1v17h-1zM421 358h6v39h-6zM425 471h2v2h-2zM425 282h2v57h-2zM425 223h2v36h-2zM426 432h1v13h-1zM427 433h1v11h-1zM427 222h1v37h-1zM427 470h2v3h-2zM427 357h2v40h-2zM428 430h1v13h-1zM427 281h3v58h-3zM428 222h2v38h-2zM429 468h1v2h-1zM429 421h1v22h-1zM429 357h2v39h-2zM430 461h1v12h-1zM430 222h1v39h-1zM430 426h1v14h-1zM430 280h1v59h-1zM431 357h1v38h-1zM431 222h1v40h-1zM431 278h1v61h-1zM431 450h1v23h-1zM432 445h1v7h-1zM432 222h1v42h-1zM432 464h1v1h-1zM432 275h1v64h-1zM432 470h2v3h-2zM432 356h2v39h-2zM433 418h1v12h-1zM433 272h1v67h-1zM433 444h1v8h-1zM433 222h1v43h-1zM434 472h1v1h-1zM434 419h1v14h-1zM434 442h1v11h-1zM435 420h1v14h-1zM435 460h1v2h-1zM435 442h1v17h-1zM434 356h3v38h-3zM436 442h1v21h-1zM436 423h1v10h-1zM437 441h1v9h-1zM437 426h1v6h-1zM434 222h5v117h-5zM437 468h2v2h-2zM437 355h2v39h-2zM438 426h1v4h-1zM438 443h1v3h-1zM439 420h1v8h-1zM439 223h2v116h-2zM439 355h2v38h-2zM440 418h1v10h-1zM441 433h1v4h-1zM441 419h1v8h-1zM441 354h2v39h-2zM441 223h2v117h-2zM442 461h1v4h-1zM442 430h1v10h-1zM443 224h1v116h-1zM443 424h1v6h-1zM444 447h1v4h-1zM444 423h1v7h-1zM443 353h3v39h-3zM445 448h1v1h-1zM445 423h1v6h-1zM445 453h1v7h-1zM444 224h3v117h-3zM444 470h3v3h-3zM446 452h1v10h-1zM446 432h1v4h-1zM446 352h1v39h-1zM446 422h1v4h-1zM447 352h1v38h-1zM447 451h1v10h-1zM447 430h1v7h-1zM447 224h1v118h-1zM447 469h1v4h-1zM448 352h1v37h-1zM448 445h1v16h-1zM448 466h2v7h-2zM448 429h2v8h-2zM449 451h1v9h-1zM449 352h1v36h-1zM450 467h1v6h-1zM450 429h1v4h-1zM448 225h4v117h-4zM450 419h2v4h-2zM451 466h1v7h-1zM451 456h1v5h-1zM452 226h1v116h-1zM452 453h1v20h-1zM452 433h1v6h-1zM450 352h4v35h-4zM453 434h1v7h-1zM453 452h1v14h-1zM453 424h1v1h-1zM453 469h1v4h-1zM454 421h1v7h-1zM454 435h1v27h-1zM453 226h3v117h-3zM454 472h2v1h-2zM454 352h2v34h-2zM455 420h1v9h-1zM455 434h1v25h-1zM456 419h1v10h-1zM456 431h1v11h-1zM456 444h1v5h-1zM456 229h1v114h-1zM456 352h2v33h-2zM457 430h1v11h-1zM457 230h1v113h-1zM458 471h1v2h-1zM458 231h1v112h-1zM458 433h1v24h-1zM457 418h3v11h-3zM458 351h2v34h-2zM459 470h1v3h-1zM459 282h1v61h-1zM459 435h1v28h-1zM459 233h1v48h-1zM460 438h1v25h-1zM460 234h1v46h-1zM460 417h1v12h-1zM460 283h1v60h-1zM460 469h1v4h-1zM460 350h2v35h-2zM461 468h1v5h-1zM461 282h1v61h-1zM461 416h1v14h-1zM461 236h1v45h-1zM461 443h1v21h-1zM462 470h1v3h-1zM462 418h1v10h-1zM462 349h1v36h-1zM462 237h1v107h-1zM462 436h1v9h-1zM462 452h1v5h-1zM463 238h1v107h-1zM463 471h1v2h-1zM463 464h1v2h-1zM463 348h1v37h-1zM463 430h2v15h-2zM464 347h1v37h-1zM464 240h1v106h-1zM464 450h1v17h-1zM464 472h2v1h-2zM465 427h1v11h-1zM465 441h1v27h-1zM466 444h1v29h-1zM466 424h1v12h-1zM467 445h1v5h-1zM467 454h1v19h-1zM467 423h1v12h-1zM468 462h1v11h-1zM468 444h1v17h-1zM468 421h1v13h-1zM469 466h1v7h-1zM469 444h1v15h-1zM465 241h6v143h-6zM469 418h2v14h-2zM470 468h1v5h-1zM470 437h1v21h-1zM471 242h1v142h-1zM471 424h1v21h-1zM472 243h1v142h-1zM472 426h1v20h-1zM471 467h3v6h-3zM473 429h1v21h-1zM473 244h1v141h-1zM474 439h1v20h-1zM474 466h1v7h-1zM474 245h1v140h-1zM475 246h1v139h-1zM475 440h1v33h-1zM475 418h1v10h-1zM476 368h1v17h-1zM476 247h1v115h-1zM476 444h1v29h-1zM476 417h1v12h-1zM477 464h1v9h-1zM477 248h1v113h-1zM477 436h1v23h-1zM477 418h1v15h-1zM477 368h2v18h-2zM478 465h1v8h-1zM478 423h1v35h-1zM478 323h2v37h-2zM478 249h2v64h-2zM479 368h1v19h-1zM479 424h1v34h-1zM480 450h1v4h-1zM480 250h1v63h-1zM480 460h1v4h-1zM480 428h1v14h-1zM480 369h2v17h-2zM481 415h1v6h-1zM481 394h1v1h-1zM481 424h1v18h-1zM481 251h1v62h-1zM481 451h1v13h-1zM480 322h3v37h-3zM482 414h1v28h-1zM482 252h1v60h-1zM482 369h1v16h-1zM482 452h1v12h-1zM482 466h2v7h-2zM483 415h1v31h-1zM483 252h1v59h-1zM483 452h1v11h-1zM482 393h3v2h-3zM483 324h2v34h-2zM483 369h2v15h-2zM484 467h1v6h-1zM484 253h1v57h-1zM484 416h1v35h-1zM484 458h1v2h-1zM485 468h1v5h-1zM485 324h1v33h-1zM485 254h1v55h-1zM485 418h1v35h-1zM485 370h1v14h-1zM485 454h1v7h-1zM485 393h2v1h-2zM486 254h1v4h-1zM486 264h1v44h-1zM486 370h1v13h-1zM486 469h1v4h-1zM486 433h2v29h-2zM487 471h1v2h-1zM487 371h1v12h-1zM487 255h1v2h-1zM487 265h1v44h-1zM486 325h3v32h-3zM488 256h1v1h-1zM488 265h1v46h-1zM488 431h1v9h-1zM488 376h1v7h-1zM488 447h1v15h-1zM488 387h2v5h-2zM489 448h1v14h-1zM489 266h1v45h-1zM489 428h1v9h-1zM489 376h1v6h-1zM490 440h1v1h-1zM490 421h1v11h-1zM490 377h1v5h-1zM490 449h1v15h-1zM490 267h1v44h-1zM489 326h3v31h-3zM491 268h1v42h-1zM491 378h1v4h-1zM491 449h1v16h-1zM491 419h1v13h-1zM491 438h1v4h-1zM492 471h1v2h-1zM492 421h1v23h-1zM492 326h1v30h-1zM492 269h1v41h-1zM492 450h1v11h-1zM493 468h1v5h-1zM493 270h1v40h-1zM493 450h1v9h-1zM493 423h1v22h-1zM494 423h1v14h-1zM494 442h1v4h-1zM494 270h1v39h-1zM495 415h1v3h-1zM495 271h1v38h-1zM495 445h1v3h-1zM495 427h1v9h-1zM493 327h4v29h-4zM494 459h3v14h-3zM496 270h1v38h-1zM496 443h1v5h-1zM497 459h1v8h-1zM497 440h1v7h-1zM497 327h1v28h-1zM497 270h2v37h-2zM498 460h1v6h-1zM498 440h1v8h-1zM497 472h3v1h-3zM499 439h1v13h-1zM499 269h1v37h-1zM498 328h3v27h-3zM500 466h1v7h-1zM500 430h1v9h-1zM500 450h1v1h-1zM501 464h1v9h-1zM501 329h1v26h-1zM500 269h3v36h-3zM501 427h2v12h-2zM502 463h1v10h-1zM502 448h1v3h-1zM502 329h2v25h-2zM503 269h1v37h-1zM503 445h1v7h-1zM503 425h1v15h-1zM503 462h1v11h-1zM504 460h1v13h-1zM504 330h1v24h-1zM504 415h1v25h-1zM504 445h1v6h-1zM505 414h1v24h-1zM505 460h1v9h-1zM506 459h1v8h-1zM506 414h1v23h-1zM507 424h1v15h-1zM507 459h1v7h-1zM507 443h1v8h-1zM508 426h1v30h-1zM508 457h1v8h-1zM504 269h6v38h-6zM505 330h5v23h-5zM509 430h1v18h-1zM509 452h1v11h-1zM510 453h1v9h-1zM510 203h1v18h-1zM510 417h1v3h-1zM510 469h1v4h-1zM510 431h2v15h-2zM510 269h2v39h-2zM511 418h1v2h-1zM511 201h1v22h-1zM511 452h1v21h-1zM512 198h1v27h-1zM512 451h1v22h-1zM512 432h1v14h-1zM512 419h1v3h-1zM510 330h4v24h-4zM512 268h2v41h-2zM513 417h1v8h-1zM513 436h1v7h-1zM513 455h1v18h-1zM513 195h1v31h-1zM514 183h1v43h-1zM514 416h1v14h-1zM514 268h1v42h-1zM514 460h1v7h-1zM514 330h2v25h-2zM515 459h1v9h-1zM515 414h1v16h-1zM515 447h1v5h-1zM515 268h2v46h-2zM515 157h2v70h-2zM516 412h1v8h-1zM516 444h1v29h-1zM516 384h1v4h-1zM516 423h1v7h-1zM516 331h2v24h-2zM517 157h1v71h-1zM517 467h1v6h-1zM517 269h1v45h-1zM517 412h1v17h-1zM517 445h1v16h-1zM517 384h2v5h-2zM518 450h1v9h-1zM518 270h1v42h-1zM518 157h1v72h-1zM518 469h1v4h-1zM518 413h2v16h-2zM519 468h1v5h-1zM519 270h1v40h-1zM519 439h1v6h-1zM519 455h1v2h-1zM518 331h3v25h-3zM519 157h2v73h-2zM520 463h1v10h-1zM520 270h1v41h-1zM520 438h1v10h-1zM520 414h1v15h-1zM521 465h1v8h-1zM521 269h1v43h-1zM521 439h1v11h-1zM521 157h1v74h-1zM521 413h1v17h-1zM522 157h1v75h-1zM522 439h1v15h-1zM522 413h1v18h-1zM522 269h1v44h-1zM522 469h2v4h-2zM523 439h1v14h-1zM523 269h1v45h-1zM523 413h1v17h-1zM523 157h2v76h-2zM524 414h1v8h-1zM524 463h1v10h-1zM524 438h1v9h-1zM524 269h1v46h-1zM521 330h5v26h-5zM525 437h1v9h-1zM525 416h1v4h-1zM525 462h1v11h-1zM525 270h1v45h-1zM519 383h8v6h-8zM525 157h2v77h-2zM526 271h1v45h-1zM526 463h1v10h-1zM526 427h1v19h-1zM526 329h1v27h-1zM527 464h1v9h-1zM527 384h1v5h-1zM527 270h1v47h-1zM527 452h1v3h-1zM527 327h1v29h-1zM527 424h1v21h-1zM527 157h2v78h-2zM528 465h1v8h-1zM528 425h1v26h-1zM528 410h1v11h-1zM528 266h1v51h-1zM528 326h1v30h-1zM528 386h1v3h-1zM529 467h1v6h-1zM529 264h1v54h-1zM529 408h1v14h-1zM529 426h1v25h-1zM529 326h2v31h-2zM529 157h2v79h-2zM530 468h1v5h-1zM530 432h1v15h-1zM530 263h1v55h-1zM530 409h1v12h-1zM531 326h1v32h-1zM531 157h1v80h-1zM531 262h1v56h-1zM531 434h1v9h-1zM531 469h1v4h-1zM532 157h1v81h-1zM532 461h1v12h-1zM532 435h1v8h-1zM532 260h1v58h-1zM532 325h2v33h-2zM533 460h1v13h-1zM533 437h1v6h-1zM533 410h1v7h-1zM533 259h1v59h-1zM533 157h1v82h-1zM534 449h1v24h-1zM534 157h1v83h-1zM534 258h1v59h-1zM534 439h1v3h-1zM534 396h1v1h-1zM534 410h1v9h-1zM534 326h2v33h-2zM535 157h1v84h-1zM535 446h1v27h-1zM535 256h1v61h-1zM535 409h1v11h-1zM536 408h1v12h-1zM536 447h1v26h-1zM536 326h1v34h-1zM536 157h1v160h-1zM536 439h1v3h-1zM537 157h1v157h-1zM537 450h1v21h-1zM537 434h1v8h-1zM537 406h1v10h-1zM537 370h1v3h-1zM537 327h2v33h-2zM538 406h1v9h-1zM538 433h1v10h-1zM538 451h1v21h-1zM538 421h1v3h-1zM538 369h1v9h-1zM538 157h2v153h-2zM539 417h1v8h-1zM539 410h1v2h-1zM539 466h1v7h-1zM539 433h2v26h-2zM539 368h2v10h-2zM539 328h2v33h-2zM540 467h1v6h-1zM540 415h1v10h-1zM541 439h1v31h-1zM541 411h1v10h-1zM541 367h1v11h-1zM541 348h1v13h-1zM540 157h3v152h-3zM541 328h2v18h-2zM542 439h1v29h-1zM542 409h1v11h-1zM542 366h1v12h-1zM542 349h1v12h-1zM542 429h1v2h-1zM543 427h1v4h-1zM543 438h1v23h-1zM543 328h1v17h-1zM543 157h2v157h-2zM544 437h1v15h-1zM544 427h1v2h-1zM543 350h3v28h-3zM545 439h1v14h-1zM546 472h1v1h-1zM546 463h1v5h-1zM546 448h1v6h-1zM546 351h2v27h-2zM547 449h1v5h-1zM547 432h1v2h-1zM547 461h1v5h-1zM547 409h1v5h-1zM545 157h4v153h-4zM548 406h1v9h-1zM548 427h1v10h-1zM548 450h1v6h-1zM548 459h1v7h-1zM544 328h6v16h-6zM549 452h1v4h-1zM549 424h1v12h-1zM549 157h1v156h-1zM549 401h1v2h-1zM549 469h2v1h-2zM550 157h1v158h-1zM550 327h1v17h-1zM550 453h1v3h-1zM550 399h1v5h-1zM550 421h1v9h-1zM551 322h1v22h-1zM551 424h1v6h-1zM551 399h1v6h-1zM551 453h1v2h-1zM551 468h1v4h-1zM551 157h1v159h-1zM551 442h1v3h-1zM552 442h1v6h-1zM552 398h1v7h-1zM552 452h1v3h-1zM552 157h1v186h-1zM552 430h1v3h-1zM552 457h1v16h-1zM553 315h1v28h-1zM553 427h1v6h-1zM553 399h1v8h-1zM553 157h1v153h-1zM553 441h1v32h-1zM548 352h7v26h-7zM554 417h1v14h-1zM554 436h1v35h-1zM554 403h1v9h-1zM554 157h2v152h-2zM555 437h1v34h-1zM555 406h1v23h-1zM535 390h22v7h-22zM554 318h3v25h-3zM556 439h1v33h-1zM556 409h1v17h-1zM556 157h2v151h-2zM557 440h1v20h-1zM557 409h1v15h-1zM557 387h1v10h-1zM557 463h1v9h-1zM555 353h4v25h-4zM557 314h2v29h-2zM558 447h1v14h-1zM558 410h1v11h-1zM558 440h1v4h-1zM558 387h1v11h-1zM558 464h2v8h-2zM558 157h2v150h-2zM559 450h1v10h-1zM559 320h1v23h-1zM559 410h1v10h-1zM559 387h1v12h-1zM560 410h1v18h-1zM560 438h1v6h-1zM560 387h1v14h-1zM559 353h3v26h-3zM560 463h2v10h-2zM560 321h2v22h-2zM561 412h1v20h-1zM561 387h1v19h-1zM561 437h1v8h-1zM560 157h3v151h-3zM562 387h1v15h-1zM562 465h1v8h-1zM562 320h1v23h-1zM562 424h1v9h-1zM562 353h1v27h-1zM562 439h1v6h-1zM562 405h1v1h-1zM563 387h1v14h-1zM563 467h1v6h-1zM563 353h1v28h-1zM563 312h1v31h-1zM563 426h1v7h-1zM563 441h1v4h-1zM563 449h1v8h-1zM563 157h1v152h-1zM564 468h1v5h-1zM564 353h1v29h-1zM564 311h1v32h-1zM564 446h1v13h-1zM564 157h1v153h-1zM564 387h2v15h-2zM565 410h1v8h-1zM565 446h1v20h-1zM565 353h1v31h-1zM566 471h1v2h-1zM566 353h1v32h-1zM566 411h1v13h-1zM566 446h1v17h-1zM566 387h1v19h-1zM567 440h1v1h-1zM567 446h1v7h-1zM567 459h1v1h-1zM567 353h1v56h-1zM567 413h1v13h-1zM567 469h1v4h-1zM565 157h4v186h-4zM568 470h1v3h-1zM568 413h1v15h-1zM568 437h1v22h-1zM568 353h1v53h-1zM569 157h1v187h-1zM569 472h1v1h-1zM569 353h1v51h-1zM569 449h1v10h-1zM569 413h1v33h-1zM570 353h1v52h-1zM570 471h1v2h-1zM570 410h1v11h-1zM570 157h1v154h-1zM570 313h1v31h-1zM570 423h1v38h-1zM571 423h1v5h-1zM571 353h1v64h-1zM571 432h1v1h-1zM571 157h1v152h-1zM571 317h2v27h-2zM571 441h2v32h-2zM572 157h1v151h-1zM572 423h1v4h-1zM572 353h1v53h-1zM572 407h1v11h-1zM573 439h1v34h-1zM573 353h1v38h-1zM573 392h1v12h-1zM573 157h1v149h-1zM573 318h1v27h-1zM573 412h1v15h-1zM574 364h1v26h-1zM574 436h1v23h-1zM574 392h1v13h-1zM574 460h1v12h-1zM574 157h1v147h-1zM574 353h1v8h-1zM574 313h1v33h-1zM574 413h1v16h-1zM575 310h1v37h-1zM575 353h1v7h-1zM575 366h1v23h-1zM575 451h1v16h-1zM575 393h1v28h-1zM575 157h1v145h-1zM575 423h1v19h-1zM576 309h1v39h-1zM576 453h1v13h-1zM576 394h1v27h-1zM576 367h1v21h-1zM576 425h1v18h-1zM576 352h1v7h-1zM576 157h1v143h-1zM577 157h1v142h-1zM577 470h1v3h-1zM577 309h1v49h-1zM577 427h1v28h-1zM577 367h1v20h-1zM577 395h1v27h-1zM578 428h1v26h-1zM578 313h1v44h-1zM578 467h1v6h-1zM578 157h1v141h-1zM578 368h1v19h-1zM578 396h1v26h-1zM579 368h1v18h-1zM579 425h1v25h-1zM579 397h1v26h-1zM579 315h1v42h-1zM579 469h1v4h-1zM580 471h1v2h-1zM580 397h1v43h-1zM580 369h2v16h-2zM581 398h1v23h-1zM581 444h1v6h-1zM581 459h1v5h-1zM581 468h1v5h-1zM581 427h1v12h-1zM579 157h4v145h-4zM582 370h1v16h-1zM582 454h1v19h-1zM582 410h1v10h-1zM582 399h1v8h-1zM580 318h4v39h-4zM583 460h1v13h-1zM583 157h1v144h-1zM583 399h1v21h-1zM583 427h1v9h-1zM583 370h1v17h-1zM582 442h3v11h-3zM584 370h1v18h-1zM584 423h1v13h-1zM584 400h1v19h-1zM584 469h1v4h-1zM584 157h2v143h-2zM585 398h1v23h-1zM585 428h1v6h-1zM585 450h1v3h-1zM585 370h1v17h-1zM585 462h1v11h-1zM586 461h1v12h-1zM586 413h1v8h-1zM586 451h1v1h-1zM586 397h1v13h-1zM586 437h1v4h-1zM586 157h2v144h-2zM587 435h1v6h-1zM587 460h1v12h-1zM587 396h1v15h-1zM587 412h1v9h-1zM586 371h3v16h-3zM588 428h1v22h-1zM588 395h1v26h-1zM588 460h1v7h-1zM584 319h6v38h-6zM588 157h2v145h-2zM589 446h1v7h-1zM589 377h1v11h-1zM589 460h1v5h-1zM589 409h1v12h-1zM589 430h1v10h-1zM589 395h1v12h-1zM589 423h1v6h-1zM590 377h1v12h-1zM590 397h1v9h-1zM590 410h1v17h-1zM590 447h1v12h-1zM590 433h1v6h-1zM590 157h1v146h-1zM590 319h2v39h-2zM591 467h1v6h-1zM591 157h1v147h-1zM591 398h1v9h-1zM591 448h1v10h-1zM591 422h1v4h-1zM591 377h1v13h-1zM591 410h1v9h-1zM591 433h1v5h-1zM592 466h1v7h-1zM592 429h1v10h-1zM592 449h1v7h-1zM592 157h1v146h-1zM592 398h1v18h-1zM592 318h1v40h-1zM593 465h1v8h-1zM593 157h1v135h-1zM593 397h1v20h-1zM593 449h1v6h-1zM593 429h1v15h-1zM593 317h2v41h-2zM594 431h1v26h-1zM594 397h1v24h-1zM594 157h1v127h-1zM592 377h4v12h-4zM595 316h1v43h-1zM595 157h1v122h-1zM595 432h1v27h-1zM595 396h1v27h-1zM596 315h1v44h-1zM596 375h1v14h-1zM596 396h1v31h-1zM596 431h1v8h-1zM596 449h1v8h-1zM596 157h2v120h-2zM597 450h1v7h-1zM597 406h1v32h-1zM597 375h1v16h-1zM597 393h1v6h-1zM598 157h1v100h-1zM598 377h1v24h-1zM598 430h1v7h-1zM598 404h1v19h-1zM598 292h1v2h-1zM598 448h1v12h-1zM597 313h3v46h-3zM598 258h2v19h-2zM599 431h1v6h-1zM599 157h1v99h-1zM599 377h1v32h-1zM599 414h1v6h-1zM599 446h1v22h-1zM599 286h1v8h-1zM600 157h1v97h-1zM600 284h1v11h-1zM600 433h1v4h-1zM600 380h1v41h-1zM600 446h1v10h-1zM600 458h1v9h-1zM600 258h1v16h-1zM601 382h1v41h-1zM601 282h1v12h-1zM601 447h1v5h-1zM601 469h1v4h-1zM601 259h2v15h-2zM601 157h2v96h-2zM602 447h1v11h-1zM602 463h1v10h-1zM602 436h1v6h-1zM602 382h1v24h-1zM602 414h1v12h-1zM602 281h2v13h-2zM603 433h1v10h-1zM603 398h1v6h-1zM603 446h1v27h-1zM603 157h1v95h-1zM603 381h1v12h-1zM603 417h1v15h-1zM600 313h5v47h-5zM604 391h1v4h-1zM604 396h1v9h-1zM604 447h1v26h-1zM604 435h1v8h-1zM604 421h1v9h-1zM604 381h1v9h-1zM604 280h1v14h-1zM603 259h3v18h-3zM604 157h2v94h-2zM605 436h1v7h-1zM605 279h1v15h-1zM605 466h1v7h-1zM605 380h1v7h-1zM605 391h1v15h-1zM605 330h1v31h-1zM605 313h2v16h-2zM606 260h1v18h-1zM606 427h1v16h-1zM606 467h1v5h-1zM606 390h1v17h-1zM606 378h1v2h-1zM606 331h2v30h-2zM606 157h2v93h-2zM606 280h2v14h-2zM607 260h1v14h-1zM607 425h1v13h-1zM607 399h1v21h-1zM607 390h1v5h-1zM607 277h1v1h-1zM607 443h1v8h-1zM608 390h1v3h-1zM608 277h1v2h-1zM608 400h1v36h-1zM608 157h1v92h-1zM608 260h1v13h-1zM608 444h1v11h-1zM608 281h1v13h-1zM607 312h3v16h-3zM609 157h1v91h-1zM609 387h1v5h-1zM609 261h1v11h-1zM609 409h1v25h-1zM609 444h1v15h-1zM609 282h1v12h-1zM609 466h1v1h-1zM609 277h1v3h-1zM609 402h2v4h-2zM610 466h1v4h-1zM610 417h1v9h-1zM610 277h1v4h-1zM610 445h1v15h-1zM610 284h1v10h-1zM610 385h1v9h-1zM610 262h1v9h-1zM608 331h4v31h-4zM610 157h2v90h-2zM610 312h2v17h-2zM611 263h1v8h-1zM611 411h1v14h-1zM611 431h1v9h-1zM611 448h1v11h-1zM611 277h1v7h-1zM611 384h1v23h-1zM611 285h1v9h-1zM612 264h1v7h-1zM612 277h1v12h-1zM612 384h1v24h-1zM612 300h1v3h-1zM612 431h1v11h-1zM612 410h1v16h-1zM612 450h1v8h-1zM611 466h3v7h-3zM612 312h2v50h-2zM613 384h1v43h-1zM613 446h1v7h-1zM613 435h1v4h-1zM613 277h1v26h-1zM613 266h1v5h-1zM614 385h1v42h-1zM614 468h1v3h-1zM614 444h1v7h-1zM612 157h4v89h-4zM614 311h2v52h-2zM614 277h2v27h-2zM615 385h1v45h-1zM615 442h1v7h-1zM616 386h1v62h-1zM617 387h1v10h-1zM617 399h1v17h-1zM617 429h1v18h-1zM617 465h1v5h-1zM616 157h3v90h-3zM618 451h1v22h-1zM618 409h1v6h-1zM618 387h1v9h-1zM619 157h1v91h-1zM619 409h1v10h-1zM619 388h1v12h-1zM619 450h1v23h-1zM619 426h1v10h-1zM620 408h1v29h-1zM620 392h1v10h-1zM620 449h1v9h-1zM620 469h1v1h-1zM616 305h6v59h-6zM621 393h1v44h-1zM620 157h3v90h-3zM622 320h1v6h-1zM622 306h1v11h-1zM622 465h1v2h-1zM622 394h1v41h-1zM623 419h1v12h-1zM623 439h1v6h-1zM623 464h1v3h-1zM623 324h1v2h-1zM623 453h1v1h-1zM623 396h1v20h-1zM624 399h1v25h-1zM624 451h1v8h-1zM624 425h1v5h-1zM624 463h1v2h-1zM623 157h3v89h-3zM624 439h2v7h-2zM625 450h1v10h-1zM625 401h1v29h-1zM622 327h5v37h-5zM626 395h1v1h-1zM626 439h1v19h-1zM626 157h1v88h-1zM626 402h2v25h-2zM627 157h1v87h-1zM627 390h1v9h-1zM627 428h1v6h-1zM627 472h1v1h-1zM627 327h1v38h-1zM627 441h1v16h-1zM628 458h1v1h-1zM628 388h1v46h-1zM628 157h1v86h-1zM628 328h1v37h-1zM628 443h1v5h-1zM629 443h1v4h-1zM629 456h1v7h-1zM629 426h1v7h-1zM629 388h1v20h-1zM629 328h2v38h-2zM629 157h2v85h-2zM630 452h1v14h-1zM630 388h1v5h-1zM630 401h1v9h-1zM630 440h1v5h-1zM631 450h1v18h-1zM631 402h1v8h-1zM631 438h1v7h-1zM631 328h2v39h-2zM632 417h1v5h-1zM632 430h1v40h-1zM631 157h3v84h-3zM633 460h1v11h-1zM633 413h1v42h-1zM633 295h1v5h-1zM633 328h2v40h-2zM634 390h1v8h-1zM634 295h1v6h-1zM634 424h1v49h-1zM634 412h1v9h-1zM635 295h1v7h-1zM635 328h1v41h-1zM635 389h1v28h-1zM635 425h1v5h-1zM635 436h1v37h-1zM636 427h1v46h-1zM636 328h1v42h-1zM636 296h1v5h-1zM636 389h1v11h-1zM637 298h1v2h-1zM637 329h1v41h-1zM637 429h1v44h-1zM637 392h1v5h-1zM634 157h5v83h-5zM638 470h1v3h-1zM638 428h1v41h-1zM638 329h1v42h-1zM638 391h1v5h-1zM639 389h1v6h-1zM639 409h1v8h-1zM639 157h1v82h-1zM639 422h2v45h-2zM640 157h1v81h-1zM640 389h1v3h-1zM640 412h1v4h-1zM639 329h3v41h-3zM641 423h1v8h-1zM641 446h1v26h-1zM641 157h2v80h-2zM642 464h1v9h-1zM642 418h1v12h-1zM642 452h1v8h-1zM642 329h2v40h-2zM643 414h1v10h-1zM643 453h1v8h-1zM643 157h1v79h-1zM643 465h2v8h-2zM644 412h1v11h-1zM644 453h1v9h-1zM644 157h1v78h-1zM645 465h1v7h-1zM645 157h1v77h-1zM645 404h1v10h-1zM645 448h1v16h-1zM644 330h3v38h-3zM646 157h1v75h-1zM646 447h1v17h-1zM646 403h1v10h-1zM646 392h1v6h-1zM646 468h1v3h-1zM647 444h1v19h-1zM647 157h1v74h-1zM647 405h1v8h-1zM647 330h1v15h-1zM647 347h2v20h-2zM647 392h2v7h-2zM648 430h1v5h-1zM648 330h1v14h-1zM648 454h1v9h-1zM648 415h1v5h-1zM648 157h1v73h-1zM648 442h1v10h-1zM649 443h1v20h-1zM649 426h1v10h-1zM649 348h1v19h-1zM649 157h1v72h-1zM649 390h1v10h-1zM650 425h1v13h-1zM650 157h1v70h-1zM650 445h1v18h-1zM650 386h2v15h-2zM651 157h1v68h-1zM651 427h1v23h-1zM651 409h1v3h-1zM651 456h1v12h-1zM649 331h4v12h-4zM650 349h3v17h-3zM652 430h1v18h-1zM652 402h1v10h-1zM652 457h1v14h-1zM652 157h1v66h-1zM652 387h1v9h-1zM653 430h1v21h-1zM653 157h1v64h-1zM653 454h1v18h-1zM653 387h1v4h-1zM653 400h1v13h-1zM654 426h1v47h-1zM654 398h1v16h-1zM654 157h1v62h-1zM655 433h1v40h-1zM655 417h1v13h-1zM655 157h1v60h-1zM655 396h1v20h-1zM653 332h4v10h-4zM653 349h4v16h-4zM656 157h1v58h-1zM656 387h1v4h-1zM656 394h1v35h-1zM656 436h1v37h-1zM657 332h1v9h-1zM657 438h1v9h-1zM657 157h1v57h-1zM657 348h1v17h-1zM657 386h1v42h-1zM657 452h1v21h-1zM658 333h1v8h-1zM658 454h1v19h-1zM658 385h1v13h-1zM658 348h1v16h-1zM658 405h1v17h-1zM658 157h1v56h-1zM659 347h1v17h-1zM659 157h1v55h-1zM659 455h1v18h-1zM659 384h1v13h-1zM659 405h1v14h-1zM659 333h2v7h-2zM660 438h1v16h-1zM660 346h1v18h-1zM660 385h1v11h-1zM660 157h1v54h-1zM660 404h2v14h-2zM660 465h2v8h-2zM661 333h1v8h-1zM661 385h1v10h-1zM661 429h1v26h-1zM661 157h1v53h-1zM662 157h1v52h-1zM662 385h1v8h-1zM662 436h1v20h-1zM662 460h1v13h-1zM662 404h1v13h-1zM662 429h1v5h-1zM661 347h3v17h-3zM663 386h1v6h-1zM663 472h1v1h-1zM663 459h1v8h-1zM663 437h1v19h-1zM663 402h1v6h-1zM663 157h1v51h-1zM663 429h1v3h-1zM662 334h3v7h-3zM664 459h1v14h-1zM664 157h1v50h-1zM664 436h1v18h-1zM664 398h2v10h-2zM665 157h1v49h-1zM665 435h1v17h-1zM665 334h1v8h-1zM665 416h1v9h-1zM665 460h2v13h-2zM666 401h1v7h-1zM666 414h1v12h-1zM666 435h1v23h-1zM666 157h2v48h-2zM666 335h2v7h-2zM667 413h1v14h-1zM667 435h1v24h-1zM667 462h1v11h-1zM667 409h1v1h-1zM668 470h1v3h-1zM668 444h1v16h-1zM668 462h1v6h-1zM668 157h1v47h-1zM668 416h1v13h-1zM668 390h1v4h-1zM668 439h1v3h-1zM669 457h1v5h-1zM669 157h1v45h-1zM669 389h1v12h-1zM668 335h3v8h-3zM669 417h2v12h-2zM670 443h1v5h-1zM670 390h1v11h-1zM670 157h1v43h-1zM664 347h8v16h-8zM671 336h1v8h-1zM671 157h1v42h-1zM671 391h1v10h-1zM671 442h1v8h-1zM671 405h1v24h-1zM672 461h1v12h-1zM672 443h1v9h-1zM672 157h1v40h-1zM672 391h1v27h-1zM673 431h1v6h-1zM673 389h1v19h-1zM673 447h1v6h-1zM673 157h1v37h-1zM673 457h1v16h-1zM672 336h3v7h-3zM674 388h1v18h-1zM674 430h1v7h-1zM674 448h1v4h-1zM674 458h1v15h-1zM675 445h1v3h-1zM675 458h1v10h-1zM675 415h1v8h-1zM675 386h1v17h-1zM675 429h1v8h-1zM676 459h1v9h-1zM676 385h1v7h-1zM676 412h1v14h-1zM676 441h1v7h-1zM676 429h1v9h-1zM677 463h1v10h-1zM677 436h1v12h-1zM677 384h1v13h-1zM677 421h1v5h-1zM672 348h7v15h-7zM678 464h1v9h-1zM678 384h1v5h-1zM678 436h1v15h-1zM678 422h1v4h-1zM678 452h1v5h-1zM675 337h5v6h-5zM677 412h3v5h-3zM679 461h1v12h-1zM679 434h1v24h-1zM680 460h1v12h-1zM680 433h1v25h-1zM680 410h1v9h-1zM681 445h1v10h-1zM681 462h1v9h-1zM681 406h1v14h-1zM681 388h1v4h-1zM681 432h1v10h-1zM679 348h4v14h-4zM680 337h3v5h-3zM682 387h1v8h-1zM682 432h1v8h-1zM682 405h1v15h-1zM682 448h1v4h-1zM682 463h1v5h-1zM683 388h1v9h-1zM683 399h1v3h-1zM683 461h1v6h-1zM683 408h1v14h-1zM683 432h1v10h-1zM683 448h1v3h-1zM683 337h1v4h-1zM684 417h1v7h-1zM684 390h1v14h-1zM684 434h1v15h-1zM684 460h1v7h-1zM683 349h3v13h-3zM685 388h1v19h-1zM685 433h1v11h-1zM685 461h1v8h-1zM685 414h1v10h-1zM684 337h3v5h-3zM686 400h1v24h-1zM686 461h1v11h-1zM686 387h1v10h-1zM686 431h1v11h-1zM686 349h2v12h-2zM687 413h1v12h-1zM687 389h1v22h-1zM687 458h1v15h-1zM688 394h1v8h-1zM688 417h1v11h-1zM688 451h1v22h-1zM687 338h3v5h-3zM689 447h1v26h-1zM689 413h1v17h-1zM689 397h1v6h-1zM690 445h1v28h-1zM690 400h1v35h-1zM690 382h2v4h-2zM690 339h2v4h-2zM691 460h1v13h-1zM691 403h1v1h-1zM691 407h1v29h-1zM691 445h1v9h-1zM692 275h1v2h-1zM692 409h1v13h-1zM692 341h1v2h-1zM692 446h1v7h-1zM692 384h1v1h-1zM692 461h1v11h-1zM692 433h1v3h-1zM688 350h6v11h-6zM692 423h2v9h-2zM693 464h1v9h-1zM693 274h1v3h-1zM693 410h1v11h-1zM693 451h1v4h-1zM694 470h1v3h-1zM694 450h1v6h-1zM694 424h1v8h-1zM694 384h2v1h-2zM695 472h1v1h-1zM695 424h1v9h-1zM695 450h1v5h-1zM694 351h3v11h-3zM696 424h1v3h-1zM696 394h1v13h-1zM696 430h2v19h-2zM697 424h1v2h-1zM697 388h1v22h-1zM698 470h1v3h-1zM698 455h1v8h-1zM698 422h1v21h-1zM697 352h3v10h-3zM698 387h2v23h-2zM699 422h1v19h-1zM699 451h1v14h-1zM699 469h1v4h-1zM700 389h1v19h-1zM700 472h1v1h-1zM700 352h1v11h-1zM700 384h1v1h-1zM700 431h1v29h-1zM701 382h1v4h-1zM701 353h1v10h-1zM701 271h1v6h-1zM701 403h1v1h-1zM701 434h1v21h-1zM702 382h1v7h-1zM702 400h1v5h-1zM702 339h1v1h-1zM702 444h1v18h-1zM702 415h1v8h-1zM702 266h1v11h-1zM703 448h1v2h-1zM703 264h1v13h-1zM703 397h1v28h-1zM703 451h1v18h-1zM703 339h1v3h-1zM703 382h1v8h-1zM702 353h3v11h-3zM704 382h1v7h-1zM704 412h1v12h-1zM704 452h1v14h-1zM704 394h1v17h-1zM704 262h1v15h-1zM705 261h1v15h-1zM705 421h1v3h-1zM705 382h1v2h-1zM705 354h1v11h-1zM705 453h1v11h-1zM705 392h1v15h-1zM704 338h3v4h-3zM706 456h1v1h-1zM706 416h1v8h-1zM706 445h1v4h-1zM706 388h1v17h-1zM706 460h1v5h-1zM706 381h1v3h-1zM706 261h1v13h-1zM706 354h2v10h-2zM707 260h1v14h-1zM707 463h1v10h-1zM707 386h1v18h-1zM707 415h1v9h-1zM707 380h1v5h-1zM707 444h1v8h-1zM708 464h1v9h-1zM708 382h1v23h-1zM708 444h1v9h-1zM708 259h1v17h-1zM708 414h1v10h-1zM708 354h1v9h-1zM709 414h1v18h-1zM709 259h1v18h-1zM709 445h1v8h-1zM709 384h1v10h-1zM709 354h1v8h-1zM709 399h1v10h-1zM710 445h1v5h-1zM710 400h1v8h-1zM710 258h1v18h-1zM710 383h1v12h-1zM710 426h1v7h-1zM710 416h1v4h-1zM710 354h2v7h-2zM711 461h1v5h-1zM711 428h1v8h-1zM711 377h1v20h-1zM711 258h1v17h-1zM711 472h2v1h-2zM712 461h1v8h-1zM712 376h1v23h-1zM712 441h1v4h-1zM712 429h1v8h-1zM712 258h2v19h-2zM713 378h1v36h-1zM713 426h1v6h-1zM713 439h1v6h-1zM713 462h1v8h-1zM707 338h8v5h-8zM714 258h1v18h-1zM714 378h1v1h-1zM714 418h1v12h-1zM714 382h1v34h-1zM714 463h1v8h-1zM714 438h1v13h-1zM715 402h1v14h-1zM715 464h1v9h-1zM715 388h1v7h-1zM715 436h1v14h-1zM715 337h1v6h-1zM715 374h1v7h-1zM715 419h1v13h-1zM715 258h1v16h-1zM716 373h1v7h-1zM716 465h1v8h-1zM716 391h1v2h-1zM716 419h1v30h-1zM716 403h1v13h-1zM716 257h1v17h-1zM716 338h2v5h-2zM717 418h1v4h-1zM717 374h1v5h-1zM717 466h1v7h-1zM717 257h1v16h-1zM717 393h1v21h-1zM717 440h1v7h-1zM717 427h1v8h-1zM718 468h1v5h-1zM718 393h1v18h-1zM718 428h1v6h-1zM718 442h1v4h-1zM718 418h1v2h-1zM718 257h2v15h-2zM719 464h1v9h-1zM719 391h1v20h-1zM719 419h1v1h-1zM719 425h1v9h-1zM718 339h3v3h-3zM720 461h1v12h-1zM720 390h1v21h-1zM720 375h1v7h-1zM720 420h1v12h-1zM712 355h10v6h-10zM721 461h1v9h-1zM721 393h1v18h-1zM721 377h1v8h-1zM721 418h1v14h-1zM720 257h3v14h-3zM722 461h1v5h-1zM722 439h1v7h-1zM722 432h1v1h-1zM722 378h1v9h-1zM722 402h1v27h-1zM722 452h1v5h-1zM723 382h1v4h-1zM723 257h1v15h-1zM723 402h1v9h-1zM723 436h1v12h-1zM723 449h1v16h-1zM723 416h1v19h-1zM724 257h1v16h-1zM724 389h1v6h-1zM724 427h1v38h-1zM724 401h1v6h-1zM725 472h1v1h-1zM725 428h1v37h-1zM725 257h1v18h-1zM725 390h1v17h-1zM726 464h1v9h-1zM726 382h1v3h-1zM726 375h1v1h-1zM726 435h1v27h-1zM726 391h1v12h-1zM726 407h1v5h-1zM722 355h6v7h-6zM726 257h2v20h-2zM727 449h1v11h-1zM727 465h1v8h-1zM727 435h1v6h-1zM727 408h1v5h-1zM727 374h1v12h-1zM727 391h1v11h-1zM728 409h1v7h-1zM728 466h1v7h-1zM728 432h1v5h-1zM728 375h1v24h-1zM728 257h1v18h-1zM728 355h1v6h-1zM729 469h1v4h-1zM729 374h1v16h-1zM729 419h1v3h-1zM729 257h1v17h-1zM729 410h1v5h-1zM730 408h1v3h-1zM730 374h1v14h-1zM730 397h1v2h-1zM730 257h1v16h-1zM730 419h1v4h-1zM730 454h1v7h-1zM729 354h3v7h-3zM731 406h1v3h-1zM731 256h1v17h-1zM731 442h1v21h-1zM731 396h1v5h-1zM731 419h1v6h-1zM732 417h1v11h-1zM732 396h1v6h-1zM732 257h1v19h-1zM732 442h1v29h-1zM731 373h3v15h-3zM733 257h1v20h-1zM733 460h1v13h-1zM733 416h1v14h-1zM733 396h1v5h-1zM733 441h1v13h-1zM734 312h1v2h-1zM734 417h1v12h-1zM734 375h1v13h-1zM734 462h1v11h-1zM734 445h1v8h-1zM735 470h1v3h-1zM735 378h1v11h-1zM735 311h1v4h-1zM735 419h1v7h-1zM735 464h1v4h-1zM735 448h1v3h-1zM735 436h1v2h-1zM732 354h5v6h-5zM734 258h3v19h-3zM736 410h1v8h-1zM736 375h1v20h-1zM736 461h1v7h-1zM736 424h1v7h-1zM736 471h2v2h-2zM736 311h2v5h-2zM737 353h1v7h-1zM737 458h1v9h-1zM737 373h1v29h-1zM737 259h1v20h-1zM737 425h1v8h-1zM737 408h1v11h-1zM738 458h1v11h-1zM738 425h1v13h-1zM738 400h1v21h-1zM738 374h1v17h-1zM738 311h1v6h-1zM738 260h1v21h-1zM739 417h1v7h-1zM739 261h1v20h-1zM739 400h1v13h-1zM739 457h1v13h-1zM739 375h1v9h-1zM739 425h1v20h-1zM739 312h2v6h-2zM740 399h1v13h-1zM740 263h1v17h-1zM740 416h1v8h-1zM740 427h1v19h-1zM740 373h1v11h-1zM740 457h1v12h-1zM741 429h1v1h-1zM741 393h1v18h-1zM741 456h1v10h-1zM741 415h1v8h-1zM741 372h1v6h-1zM741 443h1v5h-1zM741 270h1v10h-1zM741 312h1v7h-1zM742 374h1v5h-1zM742 426h1v5h-1zM742 384h1v2h-1zM742 272h1v4h-1zM742 395h1v29h-1zM742 312h1v8h-1zM738 353h6v8h-6zM740 329h4v3h-4zM743 407h1v26h-1zM743 376h1v10h-1zM743 313h1v8h-1zM744 313h1v9h-1zM744 406h1v28h-1zM744 375h1v11h-1zM745 398h1v39h-1zM745 373h1v15h-1zM745 313h1v10h-1zM746 373h1v16h-1zM746 393h1v47h-1zM746 467h1v6h-1zM746 313h1v11h-1zM746 455h1v3h-1zM747 314h1v11h-1zM747 373h1v9h-1zM747 392h1v32h-1zM747 431h1v7h-1zM747 463h2v10h-2zM748 432h1v8h-1zM748 450h1v2h-1zM748 407h1v18h-1zM748 391h1v12h-1zM748 314h1v12h-1zM744 352h6v9h-6zM749 450h1v4h-1zM749 390h1v9h-1zM749 465h1v5h-1zM749 314h1v13h-1zM749 418h2v25h-2zM750 389h1v9h-1zM750 451h1v4h-1zM750 315h2v11h-2zM751 385h1v11h-1zM751 471h1v2h-1zM751 405h1v36h-1zM743 273h10v4h-10zM752 384h1v9h-1zM752 403h1v15h-1zM752 469h1v4h-1zM752 431h1v9h-1zM752 458h1v1h-1zM752 421h1v6h-1zM750 351h4v9h-4zM753 468h1v5h-1zM753 434h1v10h-1zM753 384h1v8h-1zM753 275h1v1h-1zM753 402h1v15h-1zM753 423h1v3h-1zM754 451h1v3h-1zM754 402h1v13h-1zM754 439h1v7h-1zM754 350h1v10h-1zM754 424h1v1h-1zM754 377h1v7h-1zM754 386h1v3h-1zM754 465h2v8h-2zM755 402h1v14h-1zM755 438h1v9h-1zM755 386h1v2h-1zM752 315h5v10h-5zM755 350h2v11h-2zM756 471h1v2h-1zM756 437h1v11h-1zM756 402h1v18h-1zM756 464h1v3h-1zM757 350h1v12h-1zM757 470h1v3h-1zM757 436h1v11h-1zM757 315h1v9h-1zM757 401h1v23h-1zM758 455h1v5h-1zM758 350h1v13h-1zM758 393h1v52h-1zM758 469h1v4h-1zM759 393h1v43h-1zM760 416h1v12h-1zM760 396h1v15h-1zM760 375h1v3h-1zM759 455h3v18h-3zM759 349h3v14h-3zM761 396h1v16h-1zM761 417h1v9h-1zM761 375h1v6h-1zM760 275h3v2h-3zM762 453h1v20h-1zM762 445h1v4h-1zM762 375h1v8h-1zM762 396h1v20h-1zM758 316h6v8h-6zM763 443h1v7h-1zM763 337h1v3h-1zM763 452h1v13h-1zM763 397h1v20h-1zM763 375h1v9h-1zM763 469h1v4h-1zM764 337h1v4h-1zM764 450h1v15h-1zM764 408h1v11h-1zM764 379h1v11h-1zM762 348h4v15h-4zM765 381h1v10h-1zM765 409h1v12h-1zM765 451h1v14h-1zM765 336h1v5h-1zM766 384h1v15h-1zM766 409h1v6h-1zM766 336h1v6h-1zM766 452h1v11h-1zM764 316h4v9h-4zM766 418h2v27h-2zM766 347h2v16h-2zM766 374h2v6h-2zM767 452h1v10h-1zM767 389h1v12h-1zM767 335h1v8h-1zM767 410h1v3h-1z"/>
</g>
<g fill="#000" shape-rendering="crispEdges">
<rect x="135" y="156" width="634" height="2"/><rect x="135" y="472" width="634" height="2"/>
<rect x="135" y="156" width="2" height="318"/><rect x="767" y="156" width="2" height="318"/>
<rect x="160" y="469" width="1" height="3"/><rect x="160" y="158" width="1" height="4"/>
<rect x="184" y="464" width="2" height="8"/><rect x="185" y="463" width="1" height="1"/><rect x="184" y="158" width="2" height="9"/>
<rect x="211" y="469" width="1" height="3"/><rect x="211" y="158" width="1" height="4"/>
<rect x="235" y="464" width="2" height="8"/><rect x="236" y="463" width="1" height="1"/><rect x="235" y="158" width="2" height="9"/>
<rect x="262" y="469" width="1" height="3"/><rect x="262" y="158" width="1" height="4"/>
<rect x="286" y="464" width="2" height="8"/><rect x="287" y="463" width="1" height="1"/><rect x="286" y="158" width="2" height="9"/>
<rect x="312" y="469" width="1" height="3"/><rect x="312" y="158" width="1" height="4"/>
<rect x="337" y="464" width="2" height="8"/><rect x="338" y="463" width="1" height="1"/><rect x="337" y="158" width="2" height="9"/>
<rect x="363" y="469" width="1" height="3"/><rect x="363" y="158" width="1" height="4"/>
<rect x="388" y="464" width="2" height="8"/><rect x="389" y="463" width="1" height="1"/><rect x="388" y="158" width="2" height="9"/>
<rect x="414" y="469" width="1" height="3"/><rect x="414" y="158" width="1" height="4"/>
<rect x="438" y="464" width="2" height="8"/><rect x="439" y="463" width="1" height="1"/><rect x="438" y="158" width="2" height="9"/>
<rect x="465" y="469" width="1" height="3"/><rect x="465" y="158" width="1" height="4"/>
<rect x="489" y="464" width="2" height="8"/><rect x="490" y="463" width="1" height="1"/><rect x="489" y="158" width="2" height="9"/>
<rect x="516" y="469" width="1" height="3"/><rect x="516" y="158" width="1" height="4"/>
<rect x="540" y="464" width="2" height="8"/><rect x="541" y="463" width="1" height="1"/><rect x="540" y="158" width="2" height="9"/>
<rect x="566" y="469" width="1" height="3"/><rect x="566" y="158" width="1" height="4"/>
<rect x="591" y="464" width="2" height="8"/><rect x="592" y="463" width="1" height="1"/><rect x="591" y="158" width="2" height="9"/>
<rect x="617" y="469" width="1" height="3"/><rect x="617" y="158" width="1" height="4"/>
<rect x="642" y="464" width="2" height="8"/><rect x="643" y="463" width="1" height="1"/><rect x="642" y="158" width="2" height="9"/>
<rect x="668" y="469" width="1" height="3"/><rect x="668" y="158" width="1" height="4"/>
<rect x="693" y="464" width="2" height="8"/><rect x="694" y="463" width="1" height="1"/><rect x="693" y="158" width="2" height="9"/>
<rect x="719" y="469" width="1" height="3"/><rect x="719" y="158" width="1" height="4"/>
<rect x="743" y="464" width="2" height="8"/><rect x="744" y="463" width="1" height="1"/><rect x="743" y="158" width="2" height="9"/>
<rect x="137" y="459" width="4" height="1"/><rect x="764" y="459" width="3" height="1"/>
<rect x="137" y="443" width="4" height="1"/><rect x="764" y="443" width="3" height="1"/>
<rect x="137" y="427" width="4" height="1"/><rect x="764" y="427" width="3" height="1"/>
<rect x="137" y="411" width="4" height="1"/><rect x="764" y="411" width="3" height="1"/>
<rect x="137" y="394" width="8" height="2"/><rect x="759" y="394" width="8" height="2"/>
<rect x="137" y="379" width="4" height="1"/><rect x="764" y="379" width="3" height="1"/>
<rect x="137" y="363" width="4" height="1"/><rect x="764" y="363" width="3" height="1"/>
<rect x="137" y="347" width="4" height="1"/><rect x="764" y="347" width="3" height="1"/>
<rect x="137" y="331" width="4" height="1"/><rect x="764" y="331" width="3" height="1"/>
<rect x="137" y="314" width="8" height="2"/><rect x="759" y="314" width="8" height="2"/>
<rect x="137" y="299" width="4" height="1"/><rect x="764" y="299" width="3" height="1"/>
<rect x="137" y="283" width="4" height="1"/><rect x="764" y="283" width="3" height="1"/>
<rect x="137" y="267" width="4" height="1"/><rect x="764" y="267" width="3" height="1"/>
<rect x="137" y="251" width="4" height="1"/><rect x="764" y="251" width="3" height="1"/>
<rect x="137" y="234" width="8" height="2"/><rect x="759" y="234" width="8" height="2"/>
<rect x="137" y="219" width="4" height="1"/><rect x="764" y="219" width="3" height="1"/>
<rect x="137" y="203" width="4" height="1"/><rect x="764" y="203" width="3" height="1"/>
<rect x="137" y="187" width="4" height="1"/><rect x="764" y="187" width="3" height="1"/>
<rect x="137" y="171" width="4" height="1"/><rect x="764" y="171" width="3" height="1"/>
</g>
<g shape-rendering="crispEdges">
<rect x="785" y="246" width="16" height="12" fill="#ff2828"/>
<rect x="785" y="258" width="16" height="11" fill="#ff1e00"/>
<rect x="785" y="269" width="16" height="11" fill="#ff5a00"/>
<rect x="785" y="280" width="16" height="12" fill="#ff7d00"/>
<rect x="785" y="292" width="16" height="11" fill="#ffa500"/>
<rect x="785" y="303" width="16" height="11" fill="#ffd200"/>
<rect x="785" y="314" width="16" height="12" fill="#ffff00"/>
<rect x="785" y="326" width="16" height="11" fill="#c8ff00"/>
<rect x="785" y="337" width="16" height="11" fill="#82ff00"/>
<rect x="785" y="348" width="16" height="11" fill="#00ff00"/>
<rect x="785" y="359" width="16" height="12" fill="#00ff80"/>
<rect x="785" y="371" width="16" height="11" fill="#00ffc8"/>
<rect x="785" y="382" width="16" height="11" fill="#00ffff"/>
<rect x="785" y="393" width="16" height="12" fill="#00aaff"/>
<rect x="785" y="405" width="16" height="11" fill="#0064ff"/>
<rect x="785" y="416" width="16" height="11" fill="#003cff"/>
<rect x="785" y="427" width="16" height="12" fill="#0000ff"/>
<rect x="785" y="439" width="16" height="11" fill="#0000b4"/>
<rect x="785" y="450" width="16" height="11" fill="#1e00aa"/>
<rect x="785" y="461" width="16" height="11" fill="#5000aa"/>
<g fill="#000">
<rect x="783" y="246" width="20" height="2"/>
<rect x="783" y="258" width="20" height="2"/>
<rect x="783" y="269" width="20" height="2"/>
<rect x="783" y="280" width="20" height="2"/>
<rect x="783" y="292" width="20" height="2"/>
<rect x="783" y="303" width="20" height="2"/>
<rect x="783" y="314" width="20" height="2"/>
<rect x="783" y="326" width="20" height="2"/>
<rect x="783" y="337" width="20" height="2"/>
<rect x="783" y="348" width="20" height="2"/>
<rect x="783" y="359" width="20" height="2"/>
<rect x="783" y="371" width="20" height="2"/>
<rect x="783" y="382" width="20" height="2"/>
<rect x="783" y="393" width="20" height="2"/>
<rect x="783" y="405" width="20" height="2"/>
<rect x="783" y="416" width="20" height="2"/>
<rect x="783" y="427" width="20" height="2"/>
<rect x="783" y="439" width="20" height="2"/>
<rect x="783" y="450" width="20" height="2"/>
<rect x="783" y="461" width="20" height="2"/>
<rect x="783" y="472" width="20" height="2"/>
<rect x="783" y="246" width="2" height="228"/><rect x="801" y="246" width="2" height="228"/>
</g>
<path d="M784 247 L793 207 L802 247 Z" fill="#ffaaaa" stroke="#000" stroke-width="2" stroke-linejoin="miter"/>
<path d="M784 473 L793 514 L802 473 Z" fill="#a000aa" stroke="#000" stroke-width="2" stroke-linejoin="miter"/>
</g>
<g fill="none" stroke="#000" stroke-linecap="square" stroke-linejoin="miter" shape-rendering="crispEdges">
<path d="M250 93 L250 108 L251 111 L253 112 L255 112 M247 99 L254 99 M260 93 L260 112 M260 103 L263 100 L265 99 L268 99 L270 100 L270 103 L270 112 M277 105 L288 105 L288 103 L287 101 L286 100 L284 99 L282 99 L280 100 L278 102 L277 105 L277 107 L278 109 L280 111 L282 112 L284 112 L286 111 L288 109" stroke-width="2"/>
<path d="M309 93 L309 112 M309 93 L321 93 M309 102 L317 102 M309 112 L321 112 M326 99 L336 112 M336 99 L326 112 M343 99 L343 112 M343 103 L345 100 L347 99 L350 99 L352 100 L353 103 L353 112 M359 105 L370 105 L370 103 L370 101 L369 100 L367 99 L364 99 L362 100 L360 102 L359 105 L359 107 L360 109 L362 111 L364 112 L367 112 L369 111 L370 109 M377 99 L377 112 M377 105 L378 102 L380 100 L382 99 L384 99" stroke-width="2"/>
<path d="M409 93 L407 93 L406 94 L405 97 L405 112 M402 99 L408 99 M415 99 L415 108 L416 111 L418 112 L421 112 L422 111 L425 108 M425 99 L425 112 M433 99 L433 112 M433 103 L436 100 L437 99 L440 99 L442 100 L443 103 L443 112 M461 102 L459 100 L457 99 L454 99 L452 100 L451 102 L450 105 L450 107 L451 109 L452 111 L454 112 L457 112 L459 111 L461 109 M468 93 L468 108 L469 111 L471 112 L473 112 M466 99 L472 99 M478 93 L479 94 L480 93 L479 92 L478 93 M479 99 L479 112 M490 99 L488 100 L486 102 L485 105 L485 107 L486 109 L488 111 L490 112 L493 112 L495 111 L497 109 L497 107 L497 105 L497 102 L495 100 L493 99 L490 99 M504 99 L504 112 M504 103 L507 100 L509 99 L512 99 L513 100 L514 103 L514 112" stroke-width="2"/>
<path d="M545 93 L545 112 M545 102 L543 100 L541 99 L538 99 L537 100 L535 102 L534 105 L534 107 L535 109 L537 111 L538 112 L541 112 L543 111 L545 109 M551 105 L563 105 L563 103 L562 101 L561 100 L559 99 L556 99 L554 100 L552 102 L551 105 L551 107 L552 109 L554 111 L556 112 L559 112 L561 111 L563 109 M567 99 L573 112 M578 99 L573 112 M583 93 L584 94 L585 93 L584 92 L583 93 M584 99 L584 112 M602 99 L602 112 M602 102 L600 100 L598 99 L595 99 L593 100 L591 102 L591 105 L591 107 L591 109 L593 111 L595 112 L598 112 L600 111 L602 109 M610 93 L610 108 L611 111 L613 112 L615 112 M607 99 L614 99 M619 93 L620 94 L621 93 L620 92 L619 93 M620 99 L620 112 M631 99 L630 100 L628 102 L627 105 L627 107 L628 109 L630 111 L631 112 L634 112 L636 111 L638 109 L639 107 L639 105 L638 102 L636 100 L634 99 L631 99 M645 99 L645 112 M645 103 L648 100 L650 99 L653 99 L655 100 L656 103 L656 112" stroke-width="2"/>
<path d="M380 532 L390 546 M390 532 L380 546 M416 538 L414 537 L413 536 L410 536 L409 537 L407 538 L407 540 L407 542 L407 544 L409 545 L410 546 L413 546 L414 545 L416 544 M424 536 L422 537 L421 538 L420 540 L420 542 L421 544 L422 545 L424 546 L426 546 L427 545 L429 544 L430 542 L430 540 L429 538 L427 537 L426 536 L424 536 M438 536 L436 537 L435 538 L434 540 L434 542 L435 544 L436 545 L438 546 L440 546 L442 545 L443 544 L444 542 L444 540 L443 538 L442 537 L440 536 L438 536 M449 536 L449 546 M449 540 L450 538 L451 537 L453 536 L455 536 M467 532 L467 546 M467 538 L465 537 L464 536 L462 536 L460 537 L459 538 L458 540 L458 542 L459 544 L460 545 L462 546 L464 546 L465 545 L467 544 M472 532 L473 532 L473 531 L472 532 M473 536 L473 546 M479 536 L479 546 M479 539 L481 537 L482 536 L485 536 L486 537 L487 539 L487 546 M501 536 L501 546 M501 538 L499 537 L498 536 L496 536 L494 537 L493 538 L492 540 L492 542 L493 544 L494 545 L496 546 L498 546 L499 545 L501 544 M508 532 L508 543 L508 545 L510 546 L511 546 M505 536 L511 536 M515 540 L524 540 L524 539 L523 538 L522 537 L521 536 L519 536 L517 537 L516 538 L515 540 L515 542 L516 544 L517 545 L519 546 L521 546 L522 545 L524 544" stroke-width="2"/>
<path d="M74 376 L90 386 M74 386 L74 376 M90 386 L90 376 M82 351 L80 352 L79 354 L79 356 L80 357 L82 359 L84 360 L85 360 L88 359 L89 357 L90 356 L90 354 L89 352 L88 351 M79 343 L80 344 L82 346 L84 346 L85 346 L88 346 L89 344 L90 343 L90 341 L89 339 L88 338 L85 337 L84 337 L82 338 L80 339 L79 341 L79 343 M79 329 L80 330 L82 332 L84 332 L85 332 L88 332 L89 330 L90 329 L90 327 L89 325 L88 324 L85 323 L84 323 L82 324 L80 325 L79 327 L79 329 M79 318 L90 318 M84 318 L82 317 L80 316 L79 314 L79 312 M74 300 L90 300 M82 300 L80 302 L79 303 L79 305 L80 307 L82 308 L84 309 L85 309 L88 308 L89 307 L90 305 L90 303 L89 302 L88 300 M74 295 L75 294 L74 293 L73 294 L74 295 M79 294 L90 294 M79 288 L90 288 M82 288 L80 286 L79 285 L79 282 L80 281 L82 280 L90 280 M79 266 L90 266 M82 266 L80 268 L79 269 L79 271 L80 273 L82 274 L84 275 L85 275 L88 274 L89 273 L90 271 L90 269 L89 268 L88 266 M74 260 L87 260 L89 259 L90 257 L90 256 M79 262 L79 257 M84 252 L84 244 L82 244 L81 244 L80 245 L79 246 L79 249 L80 250 L82 252 L84 252 L85 252 L88 252 L89 250 L90 249 L90 246 L89 245 L88 244" stroke-width="2"/>
<path d="M53 122 L52 124 L50 125 L49 126 L49 128 L49 130 L49 132 L50 134 L52 135 L53 136 M57 126 L64 133 M64 126 L57 133 M70 125 L71 125 L73 123 L73 134 M83 123 L81 124 L80 125 L79 128 L79 129 L80 132 L81 133 L83 134 L84 134 L86 133 L87 132 L87 129 L87 128 L87 125 L86 124 L84 123 L83 123 M94 123 L92 124 L91 125 L91 128 L91 129 L91 132 L92 133 L94 134 L95 134 L97 133 L98 132 L98 129 L98 128 L98 125 L97 124 L95 123 L94 123 M105 123 L103 124 L102 125 L102 128 L102 129 L102 132 L103 133 L105 134 L106 134 L108 133 L109 132 L109 129 L109 128 L109 125 L108 124 L106 123 L105 123 M122 127 L122 134 M122 129 L124 127 L125 127 L127 127 L128 127 L128 129 L128 134 M128 129 L130 127 L131 127 L133 127 L134 127 L134 129 L134 134 M138 122 L139 124 L141 125 L142 126 L142 128 L142 130 L142 132 L141 134 L139 135 L138 136" stroke-width="2"/>
<path d="M690 505 L688 507 L687 508 L686 509 L686 511 L686 513 L686 515 L687 517 L688 518 L690 519 M693 509 L701 516 M701 509 L693 516 M707 508 L708 508 L710 506 L710 517 M720 506 L718 507 L717 508 L716 511 L716 512 L717 515 L718 516 L720 517 L721 517 L722 516 L723 515 L724 512 L724 511 L723 508 L722 507 L721 506 L720 506 M731 506 L729 507 L728 508 L727 511 L727 512 L728 515 L729 516 L731 517 L732 517 L733 516 L735 515 L735 512 L735 511 L735 508 L733 507 L732 506 L731 506 M742 506 L740 507 L739 508 L738 511 L738 512 L739 515 L740 516 L742 517 L743 517 L745 516 L746 515 L746 512 L746 511 L746 508 L745 507 L743 506 L742 506 M759 510 L759 517 M759 512 L761 510 L762 510 L763 510 L765 510 L765 512 L765 517 M765 512 L767 510 L768 510 L770 510 L771 510 L771 512 L771 517 M775 505 L776 507 L777 508 L778 509 L779 511 L779 513 L778 515 L777 517 L776 518 L775 519" stroke-width="2"/>
<path d="M779.5 157.5 L779.5 166.5 L780.5 168.5 L781.5 168.5 L782.5 168.5 M778.5 161.5 L781.5 161.5 M785.5 162.5 L794.5 162.5 M785.5 165.5 L794.5 165.5 M799.5 160.5 L799.5 159.5 L799.5 158.5 L800.5 157.5 L801.5 157.5 L803.5 157.5 L804.5 157.5 L804.5 158.5 L805.5 159.5 L805.5 160.5 L804.5 161.5 L803.5 163.5 L798.5 168.5 L805.5 168.5 M809.5 167.5 L809.5 168.5 L810.5 168.5 L809.5 167.5 M819.5 157.5 L814.5 164.5 L821.5 164.5 M819.5 157.5 L819.5 168.5 M826.5 159.5 L827.5 158.5 L828.5 157.5 L828.5 168.5 M835.5 160.5 L835.5 159.5 L835.5 158.5 L836.5 157.5 L837.5 157.5 L839.5 157.5 L840.5 157.5 L841.5 158.5 L841.5 159.5 L841.5 160.5 L841.5 161.5 L840.5 163.5 L834.5 168.5 L842.5 168.5 M845.5 164.5 L851.5 164.5 L851.5 163.5 L851.5 162.5 L850.5 161.5 L849.5 161.5 L847.5 161.5 L846.5 161.5 L845.5 162.5 L845.5 164.5 L845.5 165.5 L845.5 167.5 L846.5 168.5 L847.5 168.5 L849.5 168.5 L850.5 168.5 L851.5 167.5 M859.5 158.5 L859.5 168.5 M855.5 163.5 L864.5 163.5 M871.5 157.5 L869.5 157.5 L868.5 159.5 L868.5 162.5 L868.5 163.5 L868.5 166.5 L869.5 168.5 L871.5 168.5 L872.5 168.5 L873.5 168.5 L874.5 166.5 L875.5 163.5 L875.5 162.5 L874.5 159.5 L873.5 157.5 L872.5 157.5 L871.5 157.5 M885.5 158.5 L884.5 157.5 L883.5 157.5 L882.5 157.5 L880.5 157.5 L879.5 159.5 L879.5 162.5 L879.5 164.5 L879.5 167.5 L880.5 168.5 L882.5 168.5 L884.5 168.5 L885.5 167.5 L885.5 165.5 L885.5 164.5 L885.5 163.5 L884.5 162.5 L882.5 161.5 L880.5 162.5 L879.5 163.5 L879.5 164.5 M903.5 162.5 L902.5 161.5 L900.5 161.5 L899.5 161.5 L897.5 161.5 L897.5 162.5 L897.5 163.5 L898.5 164.5 L901.5 164.5 L902.5 165.5 L903.5 166.5 L903.5 167.5 L902.5 168.5 L900.5 168.5 L899.5 168.5 L897.5 168.5 L897.5 167.5" stroke-width="1"/>
<path d="M187 483 L181 490 L190 490 M187 483 L187 494" stroke-width="2"/>
<path d="M235 483 L233 483 L232 484 L232 485 L233 486 L234 487 L236 488 L238 488 L239 489 L240 490 L240 492 L239 493 L237 494 L235 494 L233 493 L232 493 L232 492 L232 490 L232 489 L234 488 L235 488 L238 487 L239 486 L239 485 L239 484 L239 483 L237 483 L235 483" stroke-width="2"/>
<path d="M279 485 L280 484 L282 483 L282 494 M289 485 L290 484 L290 483 L291 483 L294 483 L295 483 L295 484 L296 485 L296 486 L295 487 L294 489 L288 494 L296 494" stroke-width="2"/>
<path d="M329 485 L331 484 L332 483 L332 494 M347 484 L346 483 L344 483 L343 483 L341 483 L340 485 L340 488 L340 490 L340 492 L341 493 L343 494 L344 494 L345 493 L347 492 L347 491 L347 490 L347 489 L345 488 L344 487 L343 487 L341 488 L340 489 L340 490" stroke-width="2"/>
<path d="M379 485 L380 484 L380 483 L381 483 L384 483 L385 483 L385 484 L386 485 L386 486 L385 487 L384 489 L379 494 L387 494 M393 483 L392 483 L391 485 L390 488 L390 489 L391 492 L392 493 L393 494 L395 494 L396 493 L397 492 L398 489 L398 488 L397 485 L396 483 L395 483 L393 483" stroke-width="2"/>
<path d="M430 485 L431 484 L431 483 L432 483 L435 483 L436 483 L436 484 L437 485 L437 486 L436 487 L435 489 L429 494 L437 494 M447 483 L441 490 L449 490 M447 483 L447 494" stroke-width="2"/>
<path d="M481 485 L481 484 L482 483 L483 483 L485 483 L487 483 L487 484 L488 485 L488 486 L487 487 L486 489 L480 494 L488 494 M494 483 L493 483 L492 484 L492 485 L493 486 L494 487 L496 488 L498 488 L499 489 L500 490 L500 492 L499 493 L498 493 L497 494 L494 494 L493 493 L492 493 L492 492 L492 490 L492 489 L493 488 L495 488 L497 487 L498 486 L499 485 L499 484 L498 483 L497 483 L494 483" stroke-width="2"/>
<path d="M532 483 L538 483 L535 487 L537 487 L538 488 L539 490 L539 491 L538 492 L537 493 L536 494 L534 494 L532 493 L531 492 M543 485 L544 484 L544 483 L545 483 L548 483 L549 483 L549 484 L550 485 L550 486 L549 487 L548 489 L542 494 L550 494" stroke-width="2"/>
<path d="M583 483 L589 483 L586 487 L588 487 L589 488 L590 490 L590 491 L589 492 L588 493 L586 494 L585 494 L583 493 L582 493 L582 492 M601 484 L600 483 L598 483 L597 483 L596 483 L594 485 L594 488 L594 490 L594 492 L596 493 L597 494 L598 494 L600 493 L601 492 L601 491 L601 490 L601 489 L600 488 L598 487 L597 487 L596 488 L594 489 L594 490" stroke-width="2"/>
<path d="M638 483 L633 490 L641 490 M638 483 L638 494 M648 483 L646 483 L645 485 L644 488 L644 489 L645 492 L646 493 L648 494 L649 494 L650 493 L652 492 L652 489 L652 488 L652 485 L650 483 L649 483 L648 483" stroke-width="2"/>
<path d="M689 483 L684 490 L692 490 M689 483 L689 494 M701 483 L695 490 L703 490 M701 483 L701 494" stroke-width="2"/>
<path d="M740 483 L734 490 L743 490 M740 483 L740 494 M749 483 L747 483 L746 484 L746 485 L747 486 L748 487 L750 488 L752 488 L753 489 L754 490 L754 492 L753 493 L751 494 L749 494 L747 493 L746 493 L746 492 L746 490 L746 489 L747 488 L749 488 L751 487 L753 486 L753 485 L753 484 L753 483 L751 483 L749 483" stroke-width="2"/>
<path d="M124 388 L118 388 L118 393 L120 392 L122 392 L123 393 L124 394 L125 396 L125 397 L124 398 L123 399 L122 400 L120 400 L118 399 L117 398" stroke-width="2"/>
<path d="M107 310 L108 310 L110 308 L110 320 M120 308 L119 309 L118 310 L117 313 L117 315 L118 318 L119 319 L120 320 L122 320 L123 319 L124 318 L125 315 L125 313 L124 310 L123 309 L122 308 L120 308" stroke-width="2"/>
<path d="M107 230 L108 230 L110 228 L110 240 M124 228 L118 228 L118 233 L120 232 L122 232 L123 233 L124 234 L125 236 L125 237 L124 238 L123 239 L122 240 L120 240 L118 239 L117 238" stroke-width="2"/>
<path d="M818 257 L818 258 L817 259 L815 259 L813 259 L812 258 L812 257 L812 256 L812 255 L813 254 L815 253 L817 254 L818 255 L818 257 L818 259 L818 261 L817 263 L815 263 L814 263 L813 263 L812 262 M822 259 L828 259 L827 258 L827 257 L826 257 L824 257 L823 257 L822 258 L822 259 L822 260 L822 262 L823 263 L824 263 L826 263 L827 263 L828 262 M831 259 L840 259 M849 253 L844 260 L851 260 M849 253 L849 263" stroke-width="2"/>
<path d="M818 289 L818 288 L816 287 L815 287 L814 288 L813 289 L812 292 L812 294 L813 296 L814 297 L815 297 L816 297 L817 297 L818 296 L819 294 L818 293 L817 292 L816 291 L815 291 L814 292 L813 293 L812 294 M822 293 L828 293 L827 292 L827 291 L826 291 L824 291 L823 291 L822 292 L822 293 L822 294 L822 296 L823 297 L824 297 L826 297 L827 297 L828 296 M831 293 L840 293 M849 287 L844 294 L851 294 M849 287 L849 297" stroke-width="2"/>
<path d="M813 321 L818 321 L815 325 L817 325 L818 326 L819 327 L819 328 L818 330 L817 331 L816 331 L814 331 L813 331 L812 330 L812 329 M822 327 L828 327 L827 326 L827 325 L826 325 L824 325 L823 325 L822 326 L822 327 L822 328 L822 330 L823 331 L824 331 L826 331 L827 331 L828 330 M831 327 L840 327 M849 321 L844 328 L851 328 M849 321 L849 331" stroke-width="2"/>
<path d="M815 354 L813 355 L812 356 L812 359 L812 360 L812 362 L813 364 L815 364 L816 364 L817 364 L818 362 L819 360 L819 359 L818 356 L817 355 L816 354 L815 354" stroke-width="2"/>
<path d="M812 394 L821 394 M826 388 L831 388 L828 392 L830 392 L831 393 L832 394 L832 395 L831 397 L830 398 L829 398 L827 398 L826 398 L825 397 L825 396 M835 394 L841 394 L840 393 L840 392 L839 392 L837 392 L836 392 L835 393 L835 394 L835 395 L835 397 L836 398 L837 398 L839 398 L840 398 L841 397 M844 394 L853 394 M861 388 L857 395 L864 395 M861 388 L861 398" stroke-width="2"/>
<path d="M812 428 L821 428 M831 424 L831 423 L829 422 L828 422 L827 423 L826 424 L825 427 L825 429 L826 431 L827 432 L828 432 L829 432 L830 432 L831 431 L832 429 L831 428 L830 427 L829 426 L828 426 L827 427 L826 428 L825 429 M835 428 L841 428 L840 427 L840 426 L839 426 L837 426 L836 426 L835 427 L835 428 L835 429 L835 431 L836 432 L837 432 L839 432 L840 432 L841 431 M844 428 L853 428 M861 422 L857 429 L864 429 M861 422 L861 432" stroke-width="2"/>
<path d="M812 462 L821 462 M831 460 L831 461 L830 462 L828 462 L826 462 L825 461 L825 460 L825 459 L825 458 L826 457 L828 456 L830 457 L831 458 L831 460 L831 462 L831 464 L830 466 L828 466 L827 466 L826 466 L825 465 M835 462 L841 462 L840 461 L840 460 L839 460 L837 460 L836 460 L835 461 L835 462 L835 463 L835 465 L836 466 L837 466 L839 466 L840 466 L841 465 M844 462 L853 462 M861 456 L857 463 L864 463 M861 456 L861 466" stroke-width="2"/>
</g>
</svg></body></html>
